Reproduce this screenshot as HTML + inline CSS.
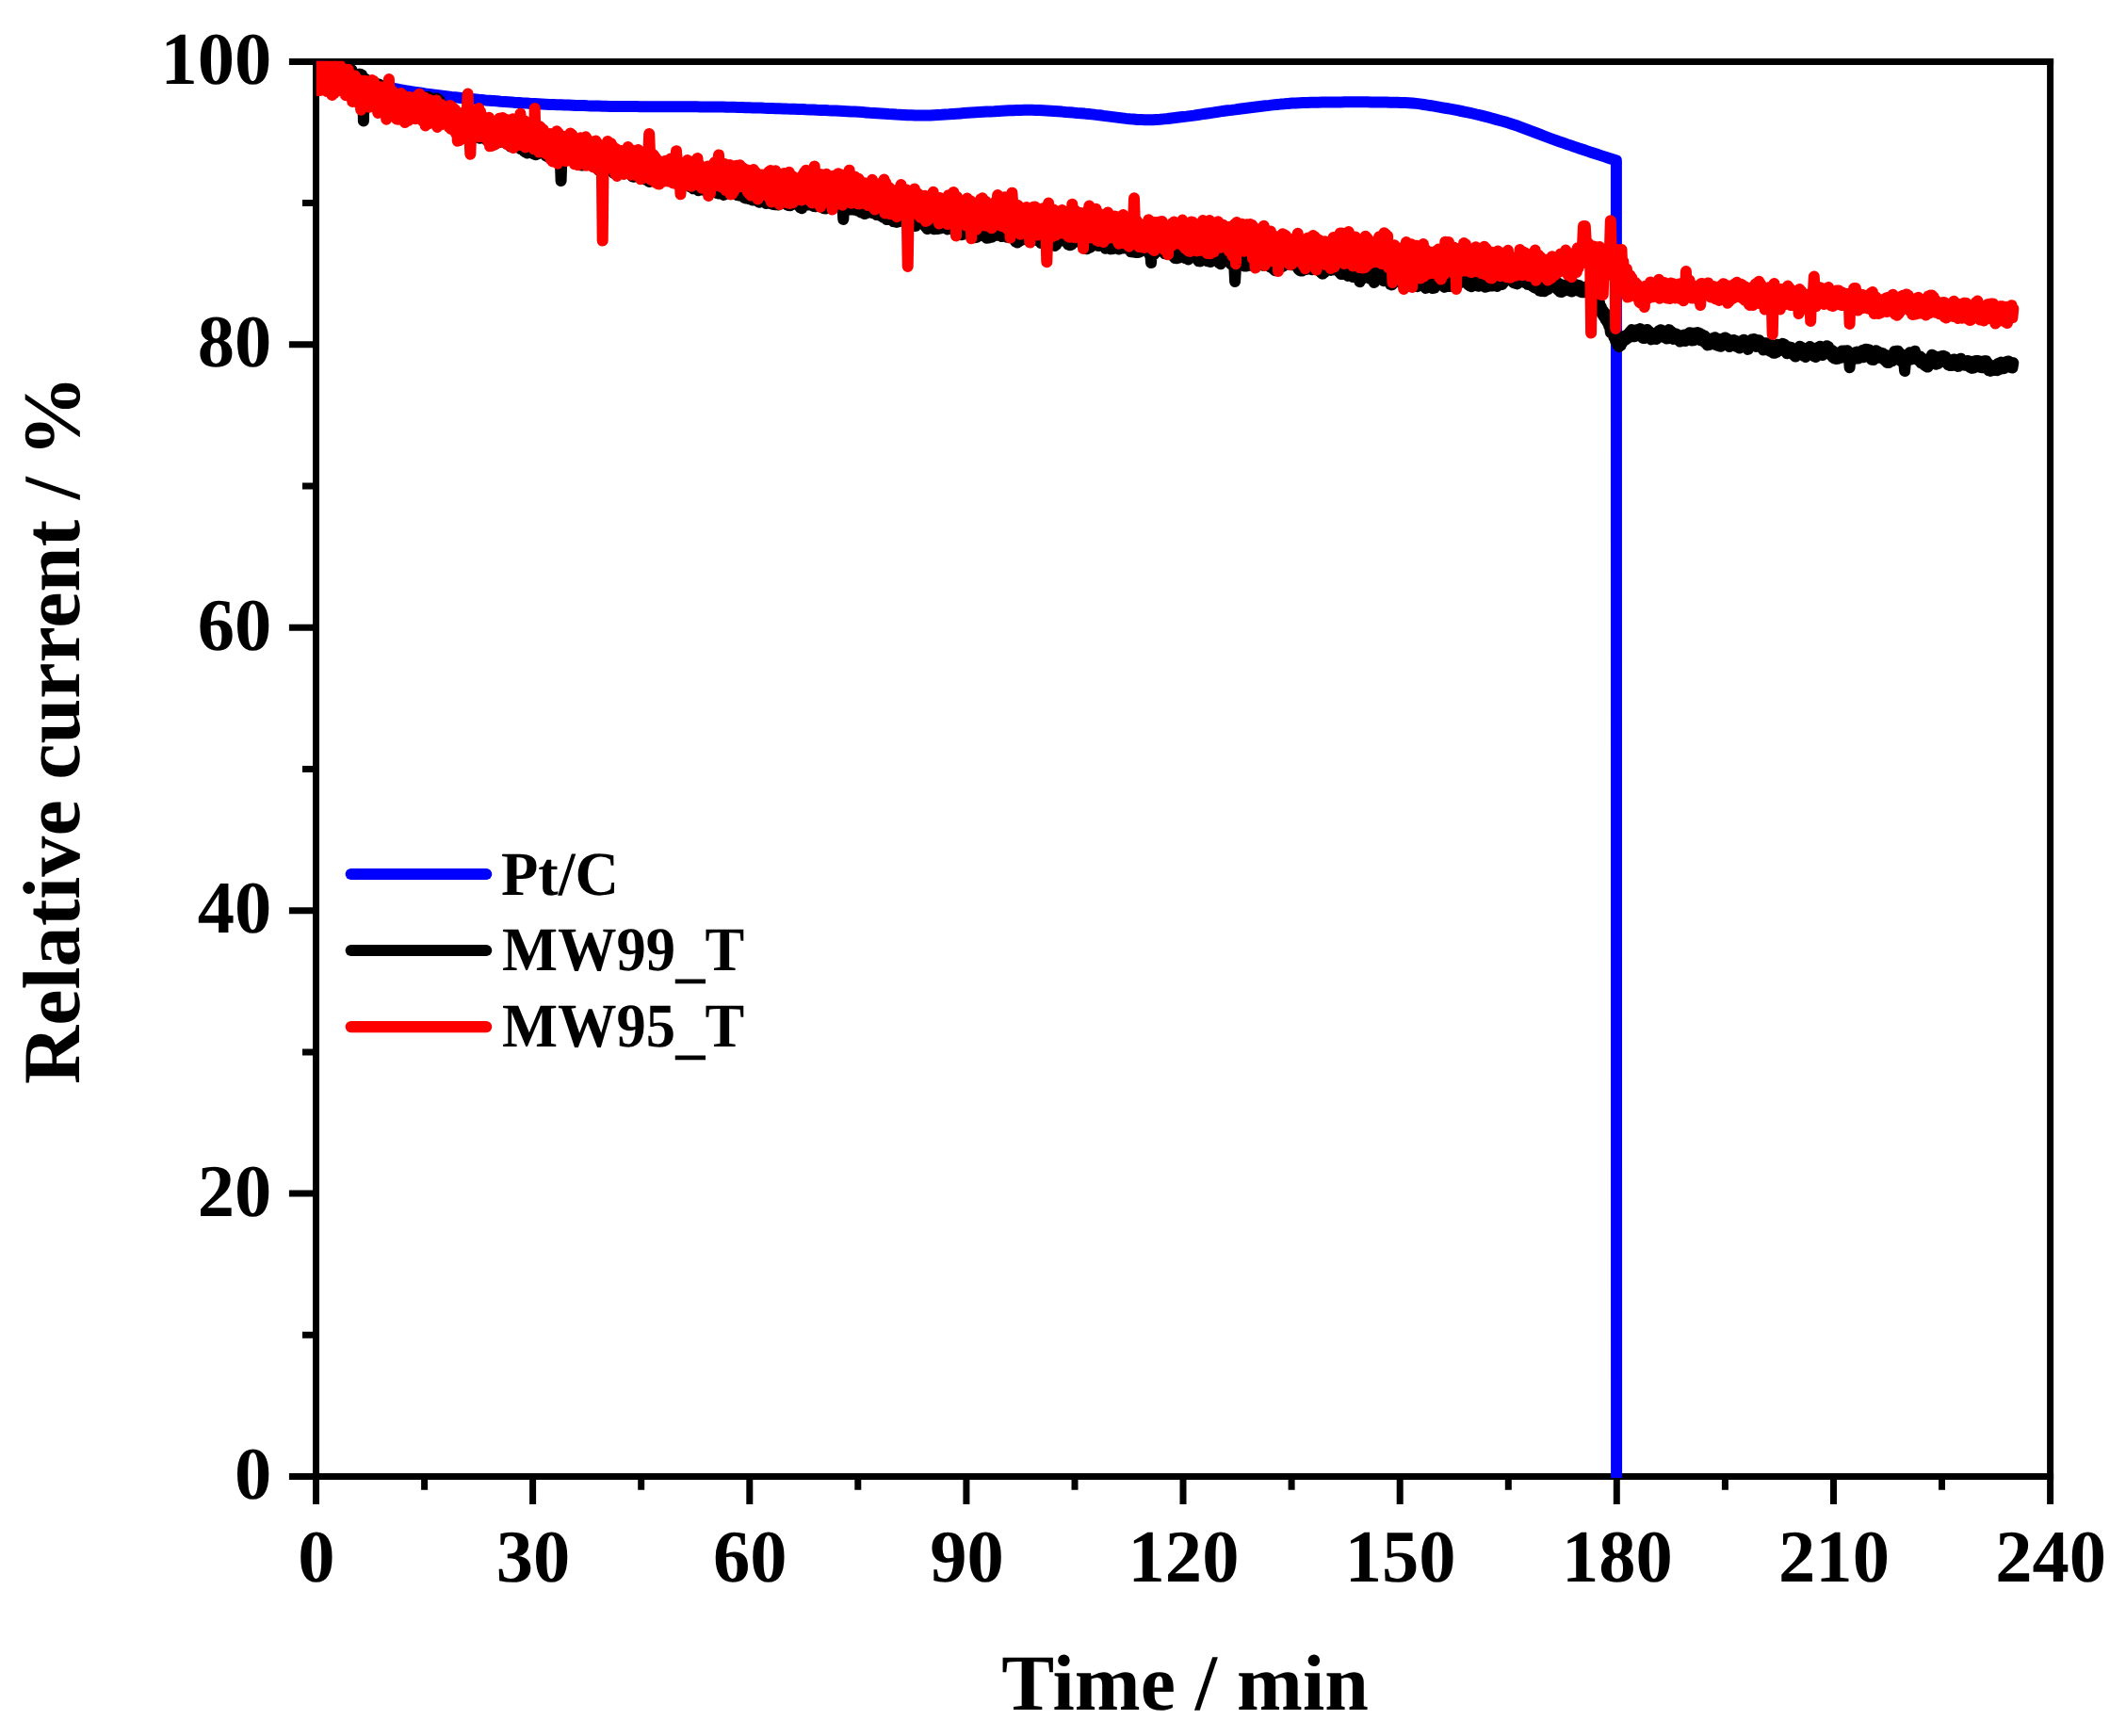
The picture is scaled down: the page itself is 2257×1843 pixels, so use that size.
<!DOCTYPE html>
<html lang="en"><head><meta charset="utf-8"><title>Relative current vs Time</title>
<style>html,body{margin:0;padding:0;background:#fff}body{width:2257px;height:1843px;overflow:hidden}svg{display:block}text{font-family:"Liberation Serif","Times New Roman",serif;font-weight:bold;fill:#000;text-rendering:geometricPrecision}.tk{font-size:79px}.ttl{font-size:84.5px}.ttl2{font-size:86.2px}.lg{font-size:66.2px}</style></head><body>
<svg width="2257" height="1843" viewBox="0 0 2257 1843">
<rect width="2257" height="1843" fill="#fff"/>
<defs><clipPath id="cp"><rect x="335.7" y="64.8" width="1841.1" height="1504.2"/></clipPath></defs>
<g stroke="#000" stroke-width="7.0" fill="none" stroke-linecap="butt">
<path d="M306.9 65.4 H2180.1"/>
<path d="M306.9 1567.5 H2180.1"/>
<path d="M335.5 61.9 V1596.9"/>
<path d="M2176.6 61.9 V1596.9"/>
<path d="M306.9 1267.1H335.5M306.9 966.7H335.5M306.9 666.2H335.5M306.9 365.8H335.5M321.0 1417.3H335.5M321.0 1116.9H335.5M321.0 816.5H335.5M321.0 516.0H335.5M321.0 215.6H335.5M565.6 1567.5V1596.9M795.8 1567.5V1596.9M1025.9 1567.5V1596.9M1256.0 1567.5V1596.9M1486.2 1567.5V1596.9M1716.3 1567.5V1596.9M1946.5 1567.5V1596.9M450.6 1567.5V1581.8M680.7 1567.5V1581.8M910.8 1567.5V1581.8M1141.0 1567.5V1581.8M1371.1 1567.5V1581.8M1601.3 1567.5V1581.8M1831.4 1567.5V1581.8M2061.5 1567.5V1581.8"/>
</g>
<g clip-path="url(#cp)" fill="none" stroke-width="12.0" stroke-linejoin="round" stroke-linecap="round">
<polyline stroke="#0000ff" points="335.5,65.3 339.5,67.7 343.5,70.0 347.5,72.1 351.5,74.2 355.5,76.0 359.5,77.8 363.5,79.4 367.5,80.9 371.5,82.3 375.5,83.7 379.5,84.9 383.5,86.1 387.5,87.2 391.5,88.2 395.5,89.2 399.5,90.2 403.5,91.1 407.5,91.9 411.5,92.7 415.5,93.5 419.5,94.2 423.5,95.0 427.5,95.6 431.5,96.3 435.5,97.0 439.5,97.6 443.5,98.2 447.5,98.8 451.5,99.4 455.5,99.9 459.5,100.4 463.5,100.9 467.5,101.4 471.5,101.9 475.5,102.4 479.5,102.9 483.5,103.3 487.5,103.7 491.5,104.2 495.5,104.6 499.5,105.0 503.5,105.3 507.5,105.7 511.5,106.0 515.5,106.4 519.5,106.7 523.5,107.0 527.5,107.3 531.5,107.7 535.5,108.0 539.5,108.3 543.5,108.6 547.5,108.9 551.5,109.1 555.5,109.4 559.5,109.6 563.5,109.9 567.5,110.1 571.5,110.3 575.5,110.5 579.5,110.7 583.5,110.9 587.5,111.0 591.5,111.2 595.5,111.3 599.5,111.5 603.5,111.6 607.5,111.7 611.5,111.9 615.5,112.0 619.5,112.1 623.5,112.3 627.5,112.4 631.5,112.5 635.5,112.6 639.5,112.7 643.5,112.8 647.5,112.9 651.5,112.9 655.5,113.0 659.5,113.0 663.5,113.1 667.5,113.1 671.5,113.1 675.5,113.1 679.5,113.2 683.5,113.2 687.5,113.2 691.5,113.2 695.5,113.2 699.5,113.2 703.5,113.2 707.5,113.2 711.5,113.3 715.5,113.3 719.5,113.3 723.5,113.3 727.5,113.3 731.5,113.3 735.5,113.3 739.5,113.3 743.5,113.4 747.5,113.4 751.5,113.4 755.5,113.4 759.5,113.5 763.5,113.5 767.5,113.6 771.5,113.7 775.5,113.7 779.5,113.8 783.5,113.9 787.5,114.0 791.5,114.2 795.5,114.3 799.5,114.4 803.5,114.5 807.5,114.6 811.5,114.8 815.5,114.9 819.5,115.0 823.5,115.2 827.5,115.3 831.5,115.4 835.5,115.6 839.5,115.7 843.5,115.8 847.5,116.0 851.5,116.1 855.5,116.3 859.5,116.4 863.5,116.6 867.5,116.8 871.5,116.9 875.5,117.1 879.5,117.3 883.5,117.4 887.5,117.6 891.5,117.8 895.5,118.0 899.5,118.2 903.5,118.4 907.5,118.6 911.5,118.8 915.5,119.1 919.5,119.4 923.5,119.7 927.5,119.9 931.5,120.2 935.5,120.5 939.5,120.8 943.5,121.1 947.5,121.3 951.5,121.6 955.5,121.8 959.5,122.0 963.5,122.2 967.5,122.3 971.5,122.4 975.5,122.5 979.5,122.5 983.5,122.5 987.5,122.4 991.5,122.2 995.5,122.0 999.5,121.8 1003.5,121.5 1007.5,121.3 1011.5,121.0 1015.5,120.7 1019.5,120.4 1023.5,120.1 1027.5,119.8 1031.5,119.5 1035.5,119.2 1039.5,119.0 1043.5,118.8 1047.5,118.6 1051.5,118.4 1055.5,118.2 1059.5,117.9 1063.5,117.7 1067.5,117.5 1071.5,117.3 1075.5,117.2 1079.5,117.0 1083.5,116.9 1087.5,116.8 1091.5,116.8 1095.5,116.8 1099.5,116.9 1103.5,117.0 1107.5,117.2 1111.5,117.4 1115.5,117.7 1119.5,118.0 1123.5,118.3 1127.5,118.6 1131.5,119.0 1135.5,119.3 1139.5,119.6 1143.5,120.0 1147.5,120.3 1151.5,120.6 1155.5,121.0 1159.5,121.4 1163.5,121.9 1167.5,122.3 1171.5,122.9 1175.5,123.4 1179.5,123.9 1183.5,124.4 1187.5,124.9 1191.5,125.4 1195.5,125.9 1199.5,126.3 1203.5,126.6 1207.5,126.9 1211.5,127.1 1215.5,127.3 1219.5,127.3 1223.5,127.2 1227.5,127.0 1231.5,126.8 1235.5,126.4 1239.5,126.0 1243.5,125.5 1247.5,125.0 1251.5,124.5 1255.5,124.0 1259.5,123.6 1263.5,123.1 1267.5,122.6 1271.5,122.0 1275.5,121.4 1279.5,120.8 1283.5,120.2 1287.5,119.6 1291.5,119.0 1295.5,118.4 1299.5,117.8 1303.5,117.3 1307.5,116.9 1311.5,116.4 1315.5,115.8 1319.5,115.3 1323.5,114.8 1327.5,114.3 1331.5,113.8 1335.5,113.3 1339.5,112.8 1343.5,112.3 1347.5,111.9 1351.5,111.4 1355.5,111.0 1359.5,110.6 1363.5,110.3 1367.5,109.9 1371.5,109.6 1375.5,109.4 1379.5,109.2 1383.5,109.0 1387.5,108.9 1391.5,108.8 1395.5,108.8 1399.5,108.7 1403.5,108.6 1407.5,108.6 1411.5,108.5 1415.5,108.5 1419.5,108.4 1423.5,108.4 1427.5,108.3 1431.5,108.3 1435.5,108.3 1439.5,108.3 1443.5,108.3 1447.5,108.3 1451.5,108.3 1455.5,108.4 1459.5,108.4 1463.5,108.5 1467.5,108.5 1471.5,108.6 1475.5,108.7 1479.5,108.8 1483.5,108.8 1487.5,108.9 1491.5,109.0 1495.5,109.2 1499.5,109.5 1503.5,109.9 1507.5,110.4 1511.5,111.0 1515.5,111.6 1519.5,112.2 1523.5,112.9 1527.5,113.6 1531.5,114.3 1535.5,115.0 1539.5,115.7 1543.5,116.4 1547.5,117.2 1551.5,118.0 1555.5,118.8 1559.5,119.6 1563.5,120.5 1567.5,121.5 1571.5,122.4 1575.5,123.4 1579.5,124.4 1583.5,125.5 1587.5,126.6 1591.5,127.7 1595.5,128.8 1599.5,129.9 1603.5,131.2 1607.5,132.5 1611.5,133.8 1615.5,135.3 1619.5,136.8 1623.5,138.3 1627.5,139.8 1631.5,141.4 1635.5,142.9 1639.5,144.5 1643.5,146.0 1647.5,147.5 1651.5,148.9 1655.5,150.3 1659.5,151.7 1663.5,153.1 1667.5,154.4 1671.5,155.8 1675.5,157.2 1679.5,158.5 1683.5,159.8 1687.5,161.2 1691.5,162.5 1695.5,163.8 1699.5,165.1 1703.5,166.4 1707.5,167.7 1711.5,169.0 1715.5,170.3 1715.9,170.4 1716.1,1600.0"/>
<polyline stroke="#000000" points="335.5,72.3 336.4,76.7 337.3,73.1 338.2,78.4 339.1,72.9 340.0,79.0 340.9,74.0 341.8,78.9 342.7,74.2 343.6,78.9 344.5,72.7 345.4,79.0 346.3,73.1 347.2,78.8 348.1,73.0 349.0,77.3 349.9,72.5 350.8,77.3 351.7,72.3 352.6,77.8 353.5,73.8 354.4,79.6 355.3,74.5 356.2,82.2 357.1,75.2 358.0,81.3 358.9,75.4 359.8,81.2 360.7,75.8 361.6,81.5 362.5,76.7 363.4,83.7 364.3,77.2 365.2,83.7 366.1,77.3 367.0,82.6 367.9,76.2 368.8,80.4 369.7,73.1 370.6,78.4 371.5,72.4 372.4,78.8 373.3,74.1 374.2,82.3 375.1,78.2 376.0,86.5 376.9,80.4 377.8,87.2 378.7,79.6 379.6,86.1 380.5,78.7 381.4,85.4 382.3,78.8 383.2,84.8 384.1,79.7 385.0,85.5 385.9,128.5 386.8,87.9 387.7,83.6 388.6,92.6 389.5,87.0 390.4,92.8 391.3,88.5 392.2,94.4 393.1,87.7 394.0,94.8 394.9,87.3 395.8,94.2 396.7,88.3 397.6,94.9 398.5,89.4 399.4,96.2 400.3,89.8 401.2,97.6 402.1,89.4 403.0,97.2 403.9,90.6 404.8,97.8 405.7,92.5 406.6,100.7 407.5,97.1 408.4,103.6 409.3,99.4 410.2,105.3 411.1,100.1 412.0,105.6 412.9,99.6 413.8,104.6 414.7,98.8 415.6,104.6 416.5,99.6 417.4,105.7 418.3,100.4 419.2,105.8 420.1,100.9 421.0,105.7 421.9,100.3 422.8,105.9 423.7,100.3 424.6,106.0 425.5,101.0 426.4,106.2 427.3,100.7 428.2,107.5 429.1,103.2 430.0,112.0 430.9,108.0 431.8,115.3 432.7,110.2 433.6,114.9 434.5,108.1 435.4,112.1 436.3,106.5 437.2,111.8 438.1,107.3 439.0,113.9 439.9,109.8 440.8,115.6 441.7,111.0 442.6,115.2 443.5,111.2 444.4,115.7 445.3,111.3 446.2,116.2 447.1,111.1 448.0,115.9 448.9,109.2 449.8,114.1 450.7,106.5 451.6,111.4 452.5,104.6 453.4,109.4 454.3,102.8 455.2,109.3 456.1,103.6 457.0,111.2 457.9,105.6 458.8,112.3 459.7,106.9 460.6,111.7 461.5,105.6 462.4,110.0 463.3,104.5 464.2,110.6 465.1,105.4 466.0,114.3 466.9,107.2 467.8,115.2 468.7,110.7 469.6,118.2 470.5,113.8 471.4,121.0 472.3,116.7 473.2,123.2 474.1,117.3 475.0,123.4 475.9,118.0 476.8,123.4 477.7,119.1 478.6,124.8 479.5,120.3 480.4,126.7 481.3,121.5 482.2,128.8 483.1,122.6 484.0,130.8 484.9,125.5 485.8,132.9 486.7,127.4 487.6,134.1 488.5,128.8 489.4,134.8 490.3,129.2 491.2,136.9 492.1,131.2 493.0,138.7 493.9,133.0 494.8,139.6 495.7,134.9 496.6,140.0 497.5,135.3 498.4,140.4 499.3,133.9 500.2,138.4 501.1,131.3 502.0,140.1 502.9,133.0 503.8,140.1 504.7,135.1 505.6,143.1 506.5,139.5 507.4,146.0 508.3,139.5 509.2,146.8 510.1,141.9 511.0,146.5 511.9,141.5 512.8,145.4 513.7,140.4 514.6,146.4 515.5,142.5 516.4,148.5 517.3,144.0 518.2,149.8 519.1,144.6 520.0,150.8 520.9,144.9 521.8,152.8 522.7,146.2 523.6,153.8 524.5,147.0 525.4,152.4 526.3,147.2 527.2,152.0 528.1,146.8 529.0,151.4 529.9,145.4 530.8,149.2 531.7,143.9 532.6,149.5 533.5,143.8 534.4,150.5 535.3,144.8 536.2,151.4 537.1,147.4 538.0,152.2 538.9,148.1 539.8,153.1 540.7,149.5 541.6,155.4 542.5,150.5 543.4,155.5 544.3,149.5 545.2,154.1 546.1,148.6 547.0,153.9 547.9,149.2 548.8,155.1 549.7,150.6 550.6,156.1 551.5,151.2 552.4,157.9 553.3,152.3 554.2,158.8 555.1,152.7 556.0,160.3 556.9,153.8 557.8,161.6 558.7,154.5 559.6,162.5 560.5,156.2 561.4,162.3 562.3,155.3 563.2,160.8 564.1,155.1 565.0,161.1 565.9,156.5 566.8,163.4 567.7,157.3 568.6,164.2 569.5,156.7 570.4,163.5 571.3,156.1 572.2,161.8 573.1,155.8 574.0,161.2 574.9,156.0 575.8,161.8 576.7,156.3 577.6,162.9 578.5,157.2 579.4,165.4 580.3,159.7 581.2,166.3 582.1,160.7 583.0,166.0 583.9,160.0 584.8,164.5 585.7,159.8 586.6,166.0 587.5,161.5 588.4,169.0 589.3,163.3 590.2,167.2 591.1,163.5 592.0,168.6 592.9,164.0 593.8,170.1 594.7,164.6 595.6,192.0 596.5,164.0 597.4,167.8 598.3,161.5 599.2,165.9 600.1,158.4 601.0,165.3 601.9,158.3 602.8,165.1 603.7,159.5 604.6,166.8 605.5,162.5 606.4,168.3 607.3,161.5 608.2,167.7 609.1,160.7 610.0,166.0 610.9,161.2 611.8,168.2 612.7,161.2 613.6,169.9 614.5,165.0 615.4,172.8 616.3,168.9 617.2,175.4 618.1,169.8 619.0,175.4 619.9,169.2 620.8,174.3 621.7,168.6 622.6,172.6 623.5,168.2 624.4,173.0 625.3,167.9 626.2,174.2 627.1,168.2 628.0,175.8 628.9,168.3 629.8,174.9 630.7,169.5 631.6,174.9 632.5,171.6 633.4,177.5 634.3,174.3 635.2,180.4 636.1,175.7 637.0,179.5 637.9,173.3 638.8,175.9 639.7,171.3 640.6,175.5 641.5,170.5 642.4,176.7 643.3,171.2 644.2,177.7 645.1,171.8 646.0,177.5 646.9,171.4 647.8,178.3 648.7,174.7 649.6,181.3 650.5,177.0 651.4,183.8 652.3,178.3 653.2,184.1 654.1,178.1 655.0,183.0 655.9,175.3 656.8,182.2 657.7,175.0 658.6,182.4 659.5,177.8 660.4,183.9 661.3,179.6 662.2,184.7 663.1,178.5 664.0,182.6 664.9,174.6 665.8,179.0 666.7,173.7 667.6,180.3 668.5,175.9 669.4,184.6 670.3,179.3 671.2,187.4 672.1,180.4 673.0,187.7 673.9,179.3 674.8,187.0 675.7,178.9 676.6,186.1 677.5,177.5 678.4,184.6 679.3,177.1 680.2,183.4 681.1,177.8 682.0,183.6 682.9,180.1 683.8,186.4 684.7,181.5 685.6,190.9 686.5,181.8 687.4,188.1 688.3,181.3 689.2,193.0 690.1,182.1 691.0,188.3 691.9,182.0 692.8,187.2 693.7,181.4 694.6,185.0 695.5,180.0 696.4,183.9 697.3,179.8 698.2,184.8 699.1,181.6 700.0,188.2 700.9,183.2 701.8,189.4 702.7,181.8 703.6,188.4 704.5,181.8 705.4,187.7 706.3,182.4 707.2,187.4 708.1,183.1 709.0,188.1 709.9,184.7 710.8,189.9 711.7,185.3 712.6,191.1 713.5,184.9 714.4,191.1 715.3,184.7 716.2,191.9 717.1,185.4 718.0,190.9 718.9,185.5 719.8,191.5 720.7,185.4 721.6,192.5 722.5,187.2 723.4,193.7 724.3,189.1 725.2,194.1 726.1,187.5 727.0,193.2 727.9,187.3 728.8,194.3 729.7,189.5 730.6,196.6 731.5,191.7 732.4,198.3 733.3,193.1 734.2,199.1 735.1,194.4 736.0,200.3 736.9,194.8 737.8,199.8 738.7,195.0 739.6,200.7 740.5,195.7 741.4,202.3 742.3,195.4 743.2,200.9 744.1,195.6 745.0,201.4 745.9,194.3 746.8,201.3 747.7,194.3 748.6,202.3 749.5,196.3 750.4,202.9 751.3,197.6 752.2,203.8 753.1,197.9 754.0,203.3 754.9,197.5 755.8,202.4 756.7,196.1 757.6,201.9 758.5,196.7 759.4,203.1 760.3,197.1 761.2,205.0 762.1,197.3 763.0,205.5 763.9,197.4 764.8,204.5 765.7,199.1 766.6,205.6 767.5,199.7 768.4,206.9 769.3,200.4 770.2,205.9 771.1,201.3 772.0,205.6 772.9,200.7 773.8,204.5 774.7,198.8 775.6,203.5 776.5,197.6 777.4,204.1 778.3,197.3 779.2,204.5 780.1,198.7 781.0,206.1 781.9,201.0 782.8,207.1 783.7,201.5 784.6,207.4 785.5,200.8 786.4,207.0 787.3,200.2 788.2,208.1 789.1,201.3 790.0,209.9 790.9,203.1 791.8,210.4 792.7,204.0 793.6,209.9 794.5,204.5 795.4,211.2 796.3,205.6 797.2,211.6 798.1,206.2 799.0,212.5 799.9,206.0 800.8,211.2 801.7,205.8 802.6,211.3 803.5,207.5 804.4,213.7 805.3,209.1 806.2,214.8 807.1,207.6 808.0,213.6 808.9,205.3 809.8,212.4 810.7,204.4 811.6,213.6 812.5,207.1 813.4,216.0 814.3,207.7 815.2,214.8 816.1,208.5 817.0,214.9 817.9,211.2 818.8,216.4 819.7,210.8 820.6,216.8 821.5,208.6 822.4,217.3 823.3,209.5 824.2,217.1 825.1,212.1 826.0,217.6 826.9,211.2 827.8,216.6 828.7,209.7 829.6,215.7 830.5,209.6 831.4,214.9 832.3,209.8 833.2,216.2 834.1,210.3 835.0,217.2 835.9,211.1 836.8,218.1 837.7,210.3 838.6,218.2 839.5,211.0 840.4,217.4 841.3,211.2 842.2,215.1 843.1,208.4 844.0,212.8 844.9,207.1 845.8,213.2 846.7,208.3 847.6,215.5 848.5,211.7 849.4,220.3 850.3,214.7 851.2,221.2 852.1,212.5 853.0,218.3 853.9,211.4 854.8,216.6 855.7,211.1 856.6,217.5 857.5,213.0 858.4,217.6 859.3,213.1 860.2,216.9 861.1,212.9 862.0,216.8 862.9,214.5 863.8,219.0 864.7,214.4 865.6,219.3 866.5,213.9 867.4,217.4 868.3,211.9 869.2,216.4 870.1,211.0 871.0,217.2 871.9,214.8 872.8,219.3 873.7,216.4 874.6,221.3 875.5,216.4 876.4,221.6 877.3,216.2 878.2,220.3 879.1,215.2 880.0,218.9 880.9,214.1 881.8,220.4 882.7,213.7 883.6,220.4 884.5,214.2 885.4,219.6 886.3,214.8 887.2,219.3 888.1,213.7 889.0,219.4 889.9,212.7 890.8,219.6 891.7,213.3 892.6,220.0 893.5,213.8 894.4,219.1 895.3,233.0 896.2,217.2 897.1,212.8 898.0,217.9 898.9,212.1 899.8,218.5 900.7,213.3 901.6,219.5 902.5,215.6 903.4,222.5 904.3,216.4 905.2,222.5 906.1,216.3 907.0,222.7 907.9,215.5 908.8,222.6 909.7,217.3 910.6,223.6 911.5,216.7 912.4,223.4 913.3,216.3 914.2,225.5 915.1,218.8 916.0,225.8 916.9,221.4 917.8,227.1 918.7,221.6 919.6,226.4 920.5,221.3 921.4,225.0 922.3,219.3 923.2,224.5 924.1,217.7 925.0,225.5 925.9,218.2 926.8,226.3 927.7,220.0 928.6,226.5 929.5,220.8 930.4,228.0 931.3,221.7 932.2,227.7 933.1,222.3 934.0,228.6 934.9,223.4 935.8,229.4 936.7,223.9 937.6,230.8 938.5,225.4 939.4,231.1 940.3,226.0 941.2,233.1 942.1,226.0 943.0,232.9 943.9,225.5 944.8,231.4 945.7,226.5 946.6,232.9 947.5,228.8 948.4,235.1 949.3,230.7 950.2,235.5 951.1,230.3 952.0,235.9 952.9,230.7 953.8,235.4 954.7,228.3 955.6,231.8 956.5,224.8 957.4,228.8 958.3,223.7 959.2,228.8 960.1,225.7 961.0,229.7 961.9,227.0 962.8,232.5 963.7,230.2 964.6,235.6 965.5,231.5 966.4,236.4 967.3,232.1 968.2,238.4 969.1,234.0 970.0,239.7 970.9,233.3 971.8,239.9 972.7,234.5 973.6,238.2 974.5,231.5 975.4,235.5 976.3,229.2 977.2,236.9 978.1,230.3 979.0,236.6 979.9,229.9 980.8,238.6 981.7,233.1 982.6,240.7 983.5,236.0 984.4,243.0 985.3,236.1 986.2,242.5 987.1,236.0 988.0,241.5 988.9,235.8 989.8,240.9 990.7,235.2 991.6,243.2 992.5,236.0 993.4,243.1 994.3,237.1 995.2,243.0 996.1,236.9 997.0,242.2 997.9,236.7 998.8,242.4 999.7,236.3 1000.6,241.8 1001.5,235.6 1002.4,241.2 1003.3,235.4 1004.2,240.8 1005.1,236.2 1006.0,243.4 1006.9,236.4 1007.8,242.7 1008.7,236.4 1009.6,242.8 1010.5,236.7 1011.4,242.9 1012.3,237.2 1013.2,243.1 1014.1,237.7 1015.0,245.3 1015.9,241.0 1016.8,248.9 1017.7,243.9 1018.6,249.1 1019.5,243.5 1020.4,249.3 1021.3,243.0 1022.2,248.9 1023.1,241.5 1024.0,246.5 1024.9,239.4 1025.8,245.7 1026.7,240.3 1027.6,246.6 1028.5,241.1 1029.4,248.8 1030.3,242.1 1031.2,249.2 1032.1,242.3 1033.0,249.8 1033.9,244.3 1034.8,252.2 1035.7,246.0 1036.6,251.9 1037.5,246.9 1038.4,251.0 1039.3,245.9 1040.2,250.4 1041.1,242.0 1042.0,248.9 1042.9,240.2 1043.8,249.0 1044.7,243.4 1045.6,250.8 1046.5,245.7 1047.4,252.8 1048.3,247.4 1049.2,252.6 1050.1,246.4 1051.0,251.6 1051.9,245.2 1052.8,251.7 1053.7,245.6 1054.6,250.9 1055.5,243.9 1056.4,249.9 1057.3,243.2 1058.2,249.7 1059.1,242.6 1060.0,249.8 1060.9,243.8 1061.8,250.3 1062.7,244.9 1063.6,251.1 1064.5,244.3 1065.4,250.5 1066.3,244.3 1067.2,250.1 1068.1,246.1 1069.0,251.8 1069.9,246.1 1070.8,251.0 1071.7,243.8 1072.6,249.7 1073.5,244.4 1074.4,251.8 1075.3,246.0 1076.2,253.6 1077.1,249.5 1078.0,256.5 1078.9,252.5 1079.8,257.5 1080.7,251.7 1081.6,256.5 1082.5,251.5 1083.4,254.8 1084.3,250.6 1085.2,254.6 1086.1,248.8 1087.0,254.0 1087.9,247.0 1088.8,252.9 1089.7,245.9 1090.6,252.7 1091.5,247.0 1092.4,252.4 1093.3,246.8 1094.2,251.6 1095.1,246.5 1096.0,252.4 1096.9,248.2 1097.8,254.2 1098.7,249.2 1099.6,254.9 1100.5,248.7 1101.4,254.1 1102.3,249.1 1103.2,255.3 1104.1,250.5 1105.0,258.1 1105.9,251.9 1106.8,258.0 1107.7,251.4 1108.6,256.5 1109.5,250.0 1110.4,255.2 1111.3,248.5 1112.2,257.9 1113.1,251.5 1114.0,258.6 1114.9,252.6 1115.8,259.2 1116.7,251.7 1117.6,260.6 1118.5,255.5 1119.4,261.0 1120.3,255.0 1121.2,259.9 1122.1,252.2 1123.0,256.4 1123.9,249.1 1124.8,254.7 1125.7,248.5 1126.6,254.8 1127.5,248.8 1128.4,255.4 1129.3,249.9 1130.2,255.2 1131.1,249.4 1132.0,257.0 1132.9,252.3 1133.8,259.6 1134.7,254.1 1135.6,260.2 1136.5,255.0 1137.4,259.9 1138.3,254.3 1139.2,257.9 1140.1,252.5 1141.0,256.1 1141.9,251.4 1142.8,256.5 1143.7,251.5 1144.6,256.2 1145.5,250.8 1146.4,256.4 1147.3,250.9 1148.2,258.2 1149.1,252.9 1150.0,261.0 1150.9,255.8 1151.8,263.3 1152.7,257.1 1153.6,264.2 1154.5,256.7 1155.4,263.4 1156.3,256.7 1157.2,262.8 1158.1,255.9 1159.0,260.6 1159.9,255.2 1160.8,259.1 1161.7,254.3 1162.6,258.9 1163.5,255.1 1164.4,260.7 1165.3,256.8 1166.2,261.1 1167.1,255.6 1168.0,259.5 1168.9,253.4 1169.8,258.5 1170.7,253.9 1171.6,261.0 1172.5,255.5 1173.4,263.7 1174.3,256.3 1175.2,263.2 1176.1,256.4 1177.0,263.3 1177.9,256.2 1178.8,264.4 1179.7,257.0 1180.6,264.2 1181.5,258.3 1182.4,263.9 1183.3,256.2 1184.2,261.3 1185.1,255.0 1186.0,262.4 1186.9,254.7 1187.8,264.6 1188.7,253.5 1189.6,263.9 1190.5,256.1 1191.4,263.1 1192.3,253.8 1193.2,263.4 1194.1,257.3 1195.0,263.3 1195.9,258.4 1196.8,264.1 1197.7,258.3 1198.6,264.8 1199.5,258.9 1200.4,267.2 1201.3,261.0 1202.2,267.4 1203.1,261.6 1204.0,266.9 1204.9,261.3 1205.8,268.1 1206.7,260.4 1207.6,268.0 1208.5,260.5 1209.4,267.7 1210.3,258.9 1211.2,266.7 1212.1,258.5 1213.0,264.5 1213.9,256.7 1214.8,262.9 1215.7,257.5 1216.6,262.5 1217.5,259.0 1218.4,265.4 1219.3,260.5 1220.2,269.8 1221.1,264.3 1222.0,279.0 1222.9,265.4 1223.8,269.9 1224.7,262.5 1225.6,269.4 1226.5,258.6 1227.4,266.1 1228.3,259.3 1229.2,265.2 1230.1,259.0 1231.0,266.2 1231.9,259.7 1232.8,266.2 1233.7,260.8 1234.6,267.4 1235.5,262.7 1236.4,269.3 1237.3,264.1 1238.2,269.7 1239.1,265.5 1240.0,268.6 1240.9,264.6 1241.8,269.1 1242.7,263.8 1243.6,269.6 1244.5,264.9 1245.4,272.0 1246.3,267.7 1247.2,273.9 1248.1,269.3 1249.0,274.3 1249.9,268.6 1250.8,273.9 1251.7,263.8 1252.6,272.2 1253.5,266.8 1254.4,272.3 1255.3,266.8 1256.2,273.0 1257.1,267.2 1258.0,273.9 1258.9,267.0 1259.8,273.8 1260.7,266.9 1261.6,275.5 1262.5,266.5 1263.4,274.1 1264.3,267.5 1265.2,273.0 1266.1,266.9 1267.0,272.7 1267.9,264.1 1268.8,273.0 1269.7,266.7 1270.6,274.3 1271.5,270.2 1272.4,277.2 1273.3,273.2 1274.2,277.4 1275.1,273.3 1276.0,276.1 1276.9,269.6 1277.8,273.6 1278.7,268.5 1279.6,273.7 1280.5,268.5 1281.4,277.2 1282.3,270.2 1283.2,277.6 1284.1,271.1 1285.0,278.0 1285.9,271.0 1286.8,276.3 1287.7,269.3 1288.6,273.8 1289.5,268.7 1290.4,274.0 1291.3,270.3 1292.2,277.0 1293.1,271.8 1294.0,279.1 1294.9,273.5 1295.8,280.2 1296.7,272.7 1297.6,278.4 1298.5,271.4 1299.4,277.6 1300.3,270.0 1301.2,277.0 1302.1,270.5 1303.0,276.5 1303.9,269.7 1304.8,278.0 1305.7,272.6 1306.6,280.3 1307.5,272.4 1308.4,280.4 1309.3,272.7 1310.2,280.5 1311.1,299.0 1312.0,282.3 1312.9,275.6 1313.8,282.7 1314.7,274.6 1315.6,280.8 1316.5,274.7 1317.4,280.2 1318.3,274.8 1319.2,281.4 1320.1,275.9 1321.0,282.5 1321.9,277.0 1322.8,282.6 1323.7,276.0 1324.6,281.4 1325.5,275.1 1326.4,280.5 1327.3,274.6 1328.2,281.8 1329.1,276.5 1330.0,281.7 1330.9,275.9 1331.8,281.2 1332.7,273.4 1333.6,277.9 1334.5,271.8 1335.4,277.0 1336.3,272.7 1337.2,278.0 1338.1,274.9 1339.0,280.9 1339.9,275.5 1340.8,281.8 1341.7,274.1 1342.6,278.8 1343.5,269.2 1344.4,278.3 1345.3,274.6 1346.2,280.5 1347.1,276.6 1348.0,283.3 1348.9,277.6 1349.8,284.2 1350.7,278.1 1351.6,285.6 1352.5,278.6 1353.4,287.2 1354.3,278.5 1355.2,285.4 1356.1,277.1 1357.0,282.1 1357.9,276.8 1358.8,282.9 1359.7,277.8 1360.6,283.4 1361.5,277.9 1362.4,282.5 1363.3,276.3 1364.2,281.2 1365.1,274.3 1366.0,280.8 1366.9,274.0 1367.8,279.9 1368.7,273.7 1369.6,279.9 1370.5,275.2 1371.4,281.2 1372.3,276.2 1373.2,281.5 1374.1,276.5 1375.0,281.3 1375.9,276.4 1376.8,283.0 1377.7,278.6 1378.6,285.9 1379.5,281.8 1380.4,287.5 1381.3,281.5 1382.2,287.5 1383.1,280.1 1384.0,284.7 1384.9,278.9 1385.8,285.6 1386.7,278.6 1387.6,285.9 1388.5,278.2 1389.4,285.0 1390.3,277.9 1391.2,284.8 1392.1,278.4 1393.0,286.2 1393.9,279.7 1394.8,285.0 1395.7,278.5 1396.6,282.8 1397.5,275.7 1398.4,281.5 1399.3,277.7 1400.2,284.3 1401.1,281.7 1402.0,288.9 1402.9,285.2 1403.8,290.7 1404.7,285.1 1405.6,289.7 1406.5,281.2 1407.4,287.0 1408.3,279.6 1409.2,285.2 1410.1,277.7 1411.0,286.1 1411.9,281.5 1412.8,286.9 1413.7,281.9 1414.6,286.6 1415.5,280.6 1416.4,285.7 1417.3,279.9 1418.2,284.6 1419.1,280.3 1420.0,286.4 1420.9,282.0 1421.8,289.1 1422.7,284.3 1423.6,291.1 1424.5,285.4 1425.4,290.9 1426.3,285.7 1427.2,290.3 1428.1,285.5 1429.0,291.3 1429.9,285.5 1430.8,292.9 1431.7,285.4 1432.6,292.0 1433.5,284.1 1434.4,291.9 1435.3,285.3 1436.2,294.1 1437.1,288.9 1438.0,293.9 1438.9,289.7 1439.8,294.8 1440.7,289.6 1441.6,295.4 1442.5,290.7 1443.4,299.2 1444.3,291.6 1445.2,296.8 1446.1,288.9 1447.0,293.4 1447.9,285.4 1448.8,291.2 1449.7,285.2 1450.6,291.5 1451.5,286.2 1452.4,293.2 1453.3,287.5 1454.2,295.7 1455.1,288.2 1456.0,295.3 1456.9,288.6 1457.8,293.2 1458.7,300.0 1459.6,291.2 1460.5,284.4 1461.4,290.9 1462.3,285.4 1463.2,292.1 1464.1,286.5 1465.0,293.9 1465.9,288.4 1466.8,296.5 1467.7,289.8 1468.6,298.2 1469.5,290.3 1470.4,297.0 1471.3,289.7 1472.2,296.6 1473.1,291.7 1474.0,297.9 1474.9,293.6 1475.8,301.7 1476.7,296.1 1477.6,302.4 1478.5,296.5 1479.4,300.5 1480.3,292.8 1481.2,297.8 1482.1,289.3 1483.0,295.1 1483.9,288.6 1484.8,294.9 1485.7,291.2 1486.6,298.0 1487.5,294.2 1488.4,301.6 1489.3,295.6 1490.2,302.7 1491.1,296.1 1492.0,302.1 1492.9,295.3 1493.8,301.3 1494.7,296.0 1495.6,301.1 1496.5,295.9 1497.4,301.3 1498.3,294.9 1499.2,301.1 1500.1,294.6 1501.0,304.0 1501.9,294.8 1502.8,303.0 1503.7,295.8 1504.6,304.2 1505.5,295.6 1506.4,302.2 1507.3,294.9 1508.2,301.6 1509.1,295.0 1510.0,302.3 1510.9,297.3 1511.8,304.3 1512.7,299.1 1513.6,305.9 1514.5,299.3 1515.4,303.8 1516.3,296.9 1517.2,302.4 1518.1,295.8 1519.0,304.3 1519.9,296.7 1520.8,306.1 1521.7,296.2 1522.6,305.7 1523.5,298.5 1524.4,303.7 1525.3,296.3 1526.2,301.9 1527.1,296.2 1528.0,301.3 1528.9,295.3 1529.8,301.0 1530.7,296.1 1531.6,301.9 1532.5,296.5 1533.4,304.9 1534.3,297.0 1535.2,303.5 1536.1,296.3 1537.0,303.2 1537.9,298.0 1538.8,304.0 1539.7,297.8 1540.6,303.8 1541.5,298.1 1542.4,303.1 1543.3,297.8 1544.2,301.9 1545.1,297.1 1546.0,301.6 1546.9,296.3 1547.8,300.7 1548.7,296.0 1549.6,300.2 1550.5,294.5 1551.4,299.9 1552.3,292.4 1553.2,299.3 1554.1,291.5 1555.0,299.0 1555.9,292.6 1556.8,299.7 1557.7,295.0 1558.6,302.2 1559.5,297.0 1560.4,303.5 1561.3,297.3 1562.2,304.2 1563.1,295.9 1564.0,302.5 1564.9,295.1 1565.8,302.7 1566.7,297.0 1567.6,302.8 1568.5,298.8 1569.4,303.8 1570.3,297.7 1571.2,302.1 1572.1,295.7 1573.0,301.8 1573.9,297.3 1574.8,302.9 1575.7,298.5 1576.6,304.8 1577.5,297.8 1578.4,304.4 1579.3,297.6 1580.2,303.4 1581.1,297.7 1582.0,303.6 1582.9,298.2 1583.8,303.5 1584.7,297.5 1585.6,301.0 1586.5,295.2 1587.4,300.5 1588.3,293.5 1589.2,303.9 1590.1,294.3 1591.0,300.6 1591.9,294.8 1592.8,301.1 1593.7,296.3 1594.6,302.0 1595.5,295.1 1596.4,299.6 1597.3,293.0 1598.2,296.2 1599.1,290.7 1600.0,295.7 1600.9,291.4 1601.8,296.6 1602.7,291.0 1603.6,297.5 1604.5,292.4 1605.4,298.7 1606.3,295.0 1607.2,300.4 1608.1,296.1 1609.0,300.9 1609.9,295.9 1610.8,301.4 1611.7,294.0 1612.6,299.7 1613.5,291.8 1614.4,298.1 1615.3,290.0 1616.2,297.9 1617.1,293.0 1618.0,299.4 1618.9,295.5 1619.8,300.7 1620.7,298.1 1621.6,301.8 1622.5,297.8 1623.4,302.2 1624.3,296.4 1625.2,302.6 1626.1,297.0 1627.0,304.0 1627.9,299.1 1628.8,305.2 1629.7,301.3 1630.6,306.1 1631.5,300.8 1632.4,306.3 1633.3,301.1 1634.2,308.6 1635.1,302.9 1636.0,308.9 1636.9,302.7 1637.8,308.9 1638.7,303.0 1639.6,309.3 1640.5,302.8 1641.4,307.9 1642.3,302.1 1643.2,307.2 1644.1,300.9 1645.0,305.2 1645.9,298.4 1646.8,305.1 1647.7,296.4 1648.6,303.3 1649.5,297.0 1650.4,304.0 1651.3,297.9 1652.2,305.6 1653.1,299.9 1654.0,307.7 1654.9,301.0 1655.8,309.7 1656.7,302.2 1657.6,310.1 1658.5,302.5 1659.4,309.1 1660.3,302.8 1661.2,307.7 1662.1,303.3 1663.0,307.4 1663.9,303.0 1664.8,308.1 1665.7,303.5 1666.6,308.8 1667.5,304.1 1668.4,309.6 1669.3,303.3 1670.2,308.8 1671.1,301.5 1672.0,308.1 1672.9,302.3 1673.8,308.2 1674.7,302.6 1675.6,308.1 1676.5,303.2 1677.4,309.4 1678.3,304.7 1679.2,310.3 1680.1,306.5 1681.0,310.3 1681.9,306.1 1682.8,309.1 1683.7,304.5 1684.6,309.5 1685.5,304.2 1686.4,309.7 1687.3,305.1 1688.2,309.8 1689.1,305.5 1690.0,311.2 1690.9,305.9 1691.8,312.3 1692.7,307.6 1693.6,313.4 1694.5,311.7 1695.4,317.8 1696.3,316.9 1697.2,324.3 1698.1,321.6 1699.0,329.7 1699.9,326.1 1700.8,333.6 1701.7,329.7 1702.6,336.1 1703.5,331.9 1704.4,339.4 1705.3,334.1 1706.2,341.9 1707.1,338.3 1708.0,345.7 1708.9,344.1 1709.8,353.0 1710.7,348.1 1711.6,353.8 1712.5,351.9 1713.4,358.3 1714.3,355.3 1715.2,362.6 1716.1,358.0 1717.0,366.2 1717.9,359.3 1718.8,368.2 1719.7,362.0 1720.6,366.7 1721.5,360.1 1722.4,363.8 1723.3,357.3 1724.2,360.8 1725.1,356.6 1726.0,360.5 1726.9,355.8 1727.8,359.0 1728.7,354.3 1729.6,358.2 1730.5,352.1 1731.4,356.5 1732.3,350.1 1733.2,357.2 1734.1,350.5 1735.0,357.3 1735.9,351.9 1736.8,356.7 1737.7,351.5 1738.6,355.7 1739.5,349.7 1740.4,355.0 1741.3,349.1 1742.2,355.2 1743.1,350.4 1744.0,358.9 1744.9,351.9 1745.8,359.1 1746.7,351.2 1747.6,355.8 1748.5,350.0 1749.4,355.7 1750.3,351.4 1751.2,358.4 1752.1,353.8 1753.0,360.4 1753.9,354.4 1754.8,359.8 1755.7,354.0 1756.6,359.4 1757.5,354.0 1758.4,360.0 1759.3,353.6 1760.2,358.6 1761.1,351.2 1762.0,357.0 1762.9,350.3 1763.8,357.2 1764.7,351.0 1765.6,357.5 1766.5,351.5 1767.4,358.5 1768.3,352.6 1769.2,359.5 1770.1,353.2 1771.0,359.2 1771.9,350.1 1772.8,358.0 1773.7,351.6 1774.6,358.1 1775.5,353.9 1776.4,359.9 1777.3,355.8 1778.2,359.7 1779.1,354.3 1780.0,359.3 1780.9,355.0 1781.8,361.1 1782.7,356.3 1783.6,362.6 1784.5,357.1 1785.4,361.9 1786.3,356.9 1787.2,361.6 1788.1,355.4 1789.0,362.0 1789.9,356.3 1790.8,360.9 1791.7,354.9 1792.6,359.3 1793.5,353.2 1794.4,359.4 1795.3,353.5 1796.2,361.5 1797.1,353.9 1798.0,361.2 1798.9,354.4 1799.8,359.2 1800.7,353.3 1801.6,359.0 1802.5,353.1 1803.4,360.1 1804.3,353.9 1805.2,361.3 1806.1,354.9 1807.0,361.6 1807.9,355.9 1808.8,362.7 1809.7,356.6 1810.6,364.2 1811.5,359.0 1812.4,366.4 1813.3,361.2 1814.2,366.2 1815.1,360.7 1816.0,365.2 1816.9,359.5 1817.8,364.0 1818.7,359.0 1819.6,364.6 1820.5,358.3 1821.4,366.0 1822.3,360.0 1823.2,366.6 1824.1,359.8 1825.0,367.4 1825.9,360.1 1826.8,367.8 1827.7,361.0 1828.6,365.4 1829.5,359.5 1830.4,364.6 1831.3,358.4 1832.2,364.6 1833.1,359.3 1834.0,366.2 1834.9,361.0 1835.8,368.0 1836.7,362.0 1837.6,365.7 1838.5,361.8 1839.4,365.5 1840.3,360.9 1841.2,366.4 1842.1,361.6 1843.0,367.6 1843.9,362.8 1844.8,368.4 1845.7,362.8 1846.6,369.6 1847.5,362.6 1848.4,368.3 1849.3,361.7 1850.2,367.0 1851.1,360.8 1852.0,366.4 1852.9,362.0 1853.8,368.8 1854.7,363.7 1855.6,370.9 1856.5,362.1 1857.4,368.5 1858.3,362.4 1859.2,367.7 1860.1,360.2 1861.0,367.3 1861.9,359.9 1862.8,367.3 1863.7,360.7 1864.6,367.9 1865.5,361.5 1866.4,367.2 1867.3,361.2 1868.2,366.8 1869.1,362.7 1870.0,368.8 1870.9,364.5 1871.8,371.6 1872.7,365.9 1873.6,371.1 1874.5,364.3 1875.4,370.4 1876.3,364.5 1877.2,371.7 1878.1,364.5 1879.0,372.7 1879.9,365.6 1880.8,373.6 1881.7,367.8 1882.6,374.7 1883.5,368.9 1884.4,374.7 1885.3,368.1 1886.2,373.9 1887.1,365.8 1888.0,372.6 1888.9,367.0 1889.8,371.7 1890.7,366.5 1891.6,370.1 1892.5,364.8 1893.4,369.7 1894.3,365.7 1895.2,372.2 1896.1,367.4 1897.0,375.3 1897.9,369.1 1898.8,373.5 1899.7,368.6 1900.6,373.6 1901.5,368.8 1902.4,374.8 1903.3,371.0 1904.2,376.8 1905.1,373.1 1906.0,378.6 1906.9,372.8 1907.8,377.4 1908.7,369.9 1909.6,376.2 1910.5,367.8 1911.4,375.9 1912.3,368.7 1913.2,376.2 1914.1,371.1 1915.0,377.9 1915.9,373.6 1916.8,379.0 1917.7,373.5 1918.6,376.9 1919.5,370.1 1920.4,375.3 1921.3,368.0 1922.2,373.4 1923.1,368.9 1924.0,375.2 1924.9,371.9 1925.8,378.3 1926.7,373.5 1927.6,379.1 1928.5,371.8 1929.4,376.3 1930.3,368.8 1931.2,374.4 1932.1,367.8 1933.0,375.4 1933.9,368.2 1934.8,377.0 1935.7,371.9 1936.6,375.5 1937.5,369.8 1938.4,374.5 1939.3,367.2 1940.2,374.2 1941.1,368.2 1942.0,375.8 1942.9,371.6 1943.8,377.2 1944.7,371.8 1945.6,379.4 1946.5,373.2 1947.4,380.6 1948.3,376.1 1949.2,381.1 1950.1,377.1 1951.0,380.8 1951.9,375.7 1952.8,380.1 1953.7,373.8 1954.6,379.7 1955.5,372.6 1956.4,379.2 1957.3,372.4 1958.2,378.4 1959.1,372.5 1960.0,377.0 1960.9,372.2 1961.8,377.4 1962.7,373.7 1963.6,390.3 1964.5,376.7 1965.4,383.1 1966.3,376.3 1967.2,381.7 1968.1,376.2 1969.0,379.4 1969.9,374.1 1970.8,379.8 1971.7,373.6 1972.6,380.5 1973.5,374.4 1974.4,378.6 1975.3,374.0 1976.2,378.6 1977.1,372.0 1978.0,379.3 1978.9,371.4 1979.8,378.7 1980.7,370.7 1981.6,377.6 1982.5,371.0 1983.4,376.5 1984.3,371.3 1985.2,378.3 1986.1,374.4 1987.0,381.8 1987.9,375.4 1988.8,382.0 1989.7,374.4 1990.6,379.5 1991.5,372.2 1992.4,378.8 1993.3,373.4 1994.2,379.7 1995.1,374.3 1996.0,379.8 1996.9,374.6 1997.8,380.0 1998.7,375.1 1999.6,381.4 2000.5,376.3 2001.4,383.0 2002.3,377.3 2003.2,384.9 2004.1,377.8 2005.0,385.0 2005.9,377.7 2006.8,384.0 2007.7,377.0 2008.6,383.2 2009.5,375.7 2010.4,380.7 2011.3,373.0 2012.2,378.5 2013.1,372.7 2014.0,378.1 2014.9,372.7 2015.8,380.8 2016.7,374.8 2017.6,383.2 2018.5,377.0 2019.4,384.0 2020.3,377.9 2021.2,384.5 2022.1,394.0 2023.0,383.3 2023.9,377.1 2024.8,382.4 2025.7,375.9 2026.6,382.1 2027.5,374.2 2028.4,381.6 2029.3,375.2 2030.2,379.9 2031.1,374.5 2032.0,380.2 2032.9,372.8 2033.8,380.5 2034.7,376.4 2035.6,381.9 2036.5,377.7 2037.4,383.2 2038.3,378.4 2039.2,385.3 2040.1,380.0 2041.0,386.1 2041.9,381.3 2042.8,387.5 2043.7,382.1 2044.6,388.6 2045.5,383.0 2046.4,389.6 2047.3,382.7 2048.2,387.7 2049.1,379.6 2050.0,384.4 2050.9,376.7 2051.8,383.5 2052.7,377.6 2053.6,384.1 2054.5,380.0 2055.4,386.7 2056.3,380.8 2057.2,386.1 2058.1,379.2 2059.0,384.2 2059.9,378.5 2060.8,382.4 2061.7,378.0 2062.6,381.9 2063.5,377.8 2064.4,383.1 2065.3,378.6 2066.2,385.2 2067.1,381.3 2068.0,387.3 2068.9,383.6 2069.8,388.1 2070.7,383.4 2071.6,388.0 2072.5,381.9 2073.4,386.9 2074.3,381.5 2075.2,386.7 2076.1,382.2 2077.0,388.1 2077.9,382.6 2078.8,388.9 2079.7,381.6 2080.6,386.9 2081.5,380.8 2082.4,386.7 2083.3,382.5 2084.2,387.6 2085.1,383.0 2086.0,387.7 2086.9,383.6 2087.8,388.1 2088.7,383.1 2089.6,388.4 2090.5,383.3 2091.4,389.9 2092.3,385.1 2093.2,390.9 2094.1,385.1 2095.0,390.7 2095.9,383.6 2096.8,389.1 2097.7,383.0 2098.6,389.2 2099.5,383.0 2100.4,389.0 2101.3,384.2 2102.2,390.0 2103.1,384.1 2104.0,390.2 2104.9,383.4 2105.8,390.2 2106.7,383.2 2107.6,390.1 2108.5,383.2 2109.4,390.0 2110.3,385.7 2111.2,393.2 2112.1,388.2 2113.0,393.9 2113.9,388.3 2114.8,393.4 2115.7,388.4 2116.6,393.0 2117.5,388.0 2118.4,393.0 2119.3,387.3 2120.2,393.2 2121.1,386.0 2122.0,392.4 2122.9,385.3 2123.8,391.1 2124.7,384.6 2125.6,391.2 2126.5,386.8 2127.4,391.2 2128.3,387.4 2129.2,389.8 2130.1,384.1 2131.0,388.9 2131.9,383.5 2132.8,389.2 2133.7,384.8 2134.6,390.2 2135.5,385.2 2136.4,390.5 2137.3,385.2"/>
<polyline stroke="#ff0000" points="335.5,67.0 336.4,96.0 337.3,72.1 338.2,94.4 339.1,71.4 340.0,96.0 340.9,71.2 341.8,91.7 342.7,67.4 343.6,90.8 344.5,64.8 345.4,94.9 346.3,67.3 347.2,97.1 348.1,65.8 349.0,95.2 349.9,63.9 350.8,98.0 351.7,63.6 352.6,101.0 353.5,72.2 354.4,99.4 355.3,77.5 356.2,97.0 357.1,74.7 358.0,96.7 358.9,71.8 359.8,94.4 360.7,69.1 361.6,94.9 362.5,71.6 363.4,94.4 364.3,76.4 365.2,97.9 366.1,74.7 367.0,101.2 367.9,74.1 368.8,99.3 369.7,73.7 370.6,100.5 371.5,80.5 372.4,103.1 373.3,84.4 374.2,107.9 375.1,81.9 376.0,106.4 376.9,80.5 377.8,105.6 378.7,83.2 379.6,106.1 380.5,87.6 381.4,110.7 382.3,88.2 383.2,116.7 384.1,89.5 385.0,114.3 385.9,85.7 386.8,112.9 387.7,85.8 388.6,112.5 389.5,90.0 390.4,113.1 391.3,94.7 392.2,113.8 393.1,90.7 394.0,112.6 394.9,85.1 395.8,111.0 396.7,85.9 397.6,110.3 398.5,91.0 399.4,112.7 400.3,94.9 401.2,119.9 402.1,95.8 403.0,114.3 403.9,92.2 404.8,113.9 405.7,93.8 406.6,115.8 407.5,94.0 408.4,118.6 409.3,95.8 410.2,126.7 411.1,94.8 412.0,121.3 412.9,84.0 413.8,122.0 414.7,97.2 415.6,120.7 416.5,96.5 417.4,119.9 418.3,98.4 419.2,123.9 420.1,100.4 421.0,126.4 421.9,105.1 422.8,126.8 423.7,101.1 424.6,126.1 425.5,99.0 426.4,124.0 427.3,100.5 428.2,126.6 429.1,107.3 430.0,130.1 430.9,107.4 431.8,126.6 432.7,103.3 433.6,128.1 434.5,103.1 435.4,125.3 436.3,107.6 437.2,124.9 438.1,104.3 439.0,125.6 439.9,104.1 440.8,126.2 441.7,106.2 442.6,124.2 443.5,101.1 444.4,124.4 445.3,99.7 446.2,126.5 447.1,102.1 448.0,127.8 448.9,103.2 449.8,129.6 450.7,103.6 451.6,133.4 452.5,105.7 453.4,131.8 454.3,106.2 455.2,131.2 456.1,106.0 457.0,127.6 457.9,108.0 458.8,128.3 459.7,107.4 460.6,128.9 461.5,107.7 462.4,130.3 463.3,106.4 464.2,134.9 465.1,111.4 466.0,133.3 466.9,112.6 467.8,132.5 468.7,110.9 469.6,131.1 470.5,112.7 471.4,131.4 472.3,116.4 473.2,132.0 474.1,115.9 475.0,132.4 475.9,113.7 476.8,135.0 477.7,112.0 478.6,136.9 479.5,113.1 480.4,136.4 481.3,114.7 482.2,136.8 483.1,116.2 484.0,141.7 484.9,120.8 485.8,149.8 486.7,121.3 487.6,149.2 488.5,123.6 489.4,147.2 490.3,123.7 491.2,147.2 492.1,119.3 493.0,145.6 493.9,120.3 494.8,144.4 495.7,123.6 496.6,99.6 497.5,123.0 498.4,143.9 499.3,163.8 500.2,140.7 501.1,122.8 502.0,137.0 502.9,122.3 503.8,136.3 504.7,119.4 505.6,138.2 506.5,116.5 507.4,141.5 508.3,114.9 509.2,145.3 510.1,118.5 511.0,145.1 511.9,123.1 512.8,143.2 513.7,125.9 514.6,144.5 515.5,127.0 516.4,145.5 517.3,126.0 518.2,150.9 519.1,124.7 520.0,155.3 520.9,127.6 521.8,155.1 522.7,130.8 523.6,153.2 524.5,132.4 525.4,153.4 526.3,132.0 527.2,152.3 528.1,131.2 529.0,147.3 529.9,125.8 530.8,144.8 531.7,125.4 532.6,148.4 533.5,125.0 534.4,146.6 535.3,126.1 536.2,150.8 537.1,126.7 538.0,153.2 538.9,131.1 539.8,152.1 540.7,133.4 541.6,154.9 542.5,129.2 543.4,154.6 544.3,126.2 545.2,157.1 546.1,127.3 547.0,152.6 547.9,134.3 548.8,152.5 549.7,136.3 550.6,153.8 551.5,134.2 552.4,120.8 553.3,132.6 554.2,154.3 555.1,127.2 556.0,154.8 556.9,128.2 557.8,156.4 558.7,133.1 559.6,155.0 560.5,132.8 561.4,153.8 562.3,133.7 563.2,154.8 564.1,133.9 565.0,155.4 565.9,134.0 566.8,158.3 567.7,115.1 568.6,156.4 569.5,135.0 570.4,158.5 571.3,135.1 572.2,161.5 573.1,134.3 574.0,160.6 574.9,136.1 575.8,160.0 576.7,137.5 577.6,160.8 578.5,142.5 579.4,163.2 580.3,144.8 581.2,162.7 582.1,143.6 583.0,160.9 583.9,142.0 584.8,169.3 585.7,142.9 586.6,171.5 587.5,143.3 588.4,170.1 589.3,142.9 590.2,168.2 591.1,139.2 592.0,173.7 592.9,141.2 593.8,168.5 594.7,146.3 595.6,167.3 596.5,149.1 597.4,167.6 598.3,148.1 599.2,169.4 600.1,144.8 601.0,171.1 601.9,144.4 602.8,165.9 603.7,145.7 604.6,165.2 605.5,141.5 606.4,168.5 607.3,143.1 608.2,170.0 609.1,147.7 610.0,174.3 610.9,151.5 611.8,170.8 612.7,153.7 613.6,175.3 614.5,149.0 615.4,170.7 616.3,146.3 617.2,168.3 618.1,147.3 619.0,163.7 619.9,146.2 620.8,166.8 621.7,145.3 622.6,175.8 623.5,147.7 624.4,174.5 625.3,153.8 626.2,175.1 627.1,157.8 628.0,174.4 628.9,156.9 629.8,177.3 630.7,153.1 631.6,177.8 632.5,149.5 633.4,178.9 634.3,151.9 635.2,180.1 636.1,155.4 637.0,175.5 637.9,155.1 638.8,173.5 639.7,255.6 640.6,173.3 641.5,157.3 642.4,174.9 643.3,155.7 644.2,176.5 645.1,150.0 646.0,175.8 646.9,153.7 647.8,173.0 648.7,152.3 649.6,174.5 650.5,155.2 651.4,180.7 652.3,157.6 653.2,184.5 654.1,158.0 655.0,186.9 655.9,160.1 656.8,183.2 657.7,161.4 658.6,181.7 659.5,160.1 660.4,182.6 661.3,162.3 662.2,184.8 663.1,162.8 664.0,182.4 664.9,161.1 665.8,180.9 666.7,155.9 667.6,180.4 668.5,157.9 669.4,185.7 670.3,161.0 671.2,182.2 672.1,159.9 673.0,181.5 673.9,163.9 674.8,185.9 675.7,164.1 676.6,185.1 677.5,158.9 678.4,186.4 679.3,164.2 680.2,190.3 681.1,161.9 682.0,189.6 682.9,162.9 683.8,188.2 684.7,161.8 685.6,186.5 686.5,165.1 687.4,186.3 688.3,165.2 689.2,142.0 690.1,164.9 691.0,190.8 691.9,167.2 692.8,189.1 693.7,164.2 694.6,187.3 695.5,166.7 696.4,194.0 697.3,169.2 698.2,195.2 699.1,172.9 700.0,195.5 700.9,171.5 701.8,191.7 702.7,175.7 703.6,192.9 704.5,175.0 705.4,190.8 706.3,170.8 707.2,191.1 708.1,171.8 709.0,192.4 709.9,170.0 710.8,190.3 711.7,168.6 712.6,191.2 713.5,173.9 714.4,194.3 715.3,178.6 716.2,194.7 717.1,176.1 718.0,160.3 718.9,172.4 719.8,188.1 720.7,171.5 721.6,187.3 722.5,206.2 723.4,190.2 724.3,174.0 725.2,192.3 726.1,177.4 727.0,193.7 727.9,175.3 728.8,192.4 729.7,170.1 730.6,196.7 731.5,174.0 732.4,196.2 733.3,171.6 734.2,197.8 735.1,174.6 736.0,196.6 736.9,176.5 737.8,190.6 738.7,170.2 739.6,190.6 740.5,168.0 741.4,192.1 742.3,174.5 743.2,196.1 744.1,177.9 745.0,199.7 745.9,177.7 746.8,199.8 747.7,178.8 748.6,198.3 749.5,177.2 750.4,200.9 751.3,176.6 752.2,208.0 753.1,176.8 754.0,205.6 754.9,181.6 755.8,199.4 756.7,176.4 757.6,193.7 758.5,172.3 759.4,194.7 760.3,175.9 761.2,195.0 762.1,175.9 763.0,164.5 763.9,179.4 764.8,198.0 765.7,176.6 766.6,197.8 767.5,174.4 768.4,199.5 769.3,173.9 770.2,201.9 771.1,175.1 772.0,198.2 772.9,175.8 773.8,202.2 774.7,175.1 775.6,206.5 776.5,177.5 777.4,206.1 778.3,179.5 779.2,203.0 780.1,176.3 781.0,197.8 781.9,175.7 782.8,195.8 783.7,176.4 784.6,197.0 785.5,175.3 786.4,198.1 787.3,179.5 788.2,194.9 789.1,178.4 790.0,195.7 790.9,181.5 791.8,199.7 792.7,180.3 793.6,203.6 794.5,180.8 795.4,205.9 796.3,184.4 797.2,207.6 798.1,180.8 799.0,202.7 799.9,179.9 800.8,205.9 801.7,182.2 802.6,208.4 803.5,184.6 804.4,211.4 805.3,186.7 806.2,206.0 807.1,185.5 808.0,204.6 808.9,185.4 809.8,205.8 810.7,188.5 811.6,206.4 812.5,191.1 813.4,207.5 814.3,186.7 815.2,207.4 816.1,182.3 817.0,210.9 817.9,181.0 818.8,214.5 819.7,182.7 820.6,212.0 821.5,183.3 822.4,210.0 823.3,181.2 824.2,212.1 825.1,187.6 826.0,214.2 826.9,191.6 827.8,217.0 828.7,191.0 829.6,215.5 830.5,186.1 831.4,208.2 832.3,184.0 833.2,212.2 834.1,186.1 835.0,214.2 835.9,185.4 836.8,215.6 837.7,182.8 838.6,215.9 839.5,189.6 840.4,212.8 841.3,187.0 842.2,215.0 843.1,190.2 844.0,211.9 844.9,191.2 845.8,211.2 846.7,192.4 847.6,210.5 848.5,191.5 849.4,208.7 850.3,187.9 851.2,212.5 852.1,186.0 853.0,209.6 853.9,183.0 854.8,209.0 855.7,180.7 856.6,209.4 857.5,183.7 858.4,211.1 859.3,187.8 860.2,213.4 861.1,190.2 862.0,215.4 862.9,185.1 863.8,213.0 864.7,176.4 865.6,209.9 866.5,185.4 867.4,210.2 868.3,185.0 869.2,211.1 870.1,185.1 871.0,219.8 871.9,185.2 872.8,209.5 873.7,185.8 874.6,206.7 875.5,185.4 876.4,205.2 877.3,184.8 878.2,206.1 879.1,189.6 880.0,211.5 880.9,189.9 881.8,216.8 882.7,190.4 883.6,222.6 884.5,186.7 885.4,215.8 886.3,189.2 887.2,211.9 888.1,186.0 889.0,212.1 889.9,184.2 890.8,213.7 891.7,187.8 892.6,216.9 893.5,185.4 894.4,217.7 895.3,186.8 896.2,213.4 897.1,186.7 898.0,210.6 898.9,186.3 899.8,209.3 900.7,188.8 901.6,180.7 902.5,192.4 903.4,215.7 904.3,191.5 905.2,213.5 906.1,191.5 907.0,213.9 907.9,187.7 908.8,214.5 909.7,189.4 910.6,216.3 911.5,189.8 912.4,216.5 913.3,193.0 914.2,215.9 915.1,194.9 916.0,214.5 916.9,193.9 917.8,214.2 918.7,197.4 919.6,214.9 920.5,198.9 921.4,218.0 922.3,197.1 923.2,217.3 924.1,196.0 925.0,217.3 925.9,190.8 926.8,218.4 927.7,197.2 928.6,222.4 929.5,197.7 930.4,220.3 931.3,196.3 932.2,217.6 933.1,195.3 934.0,215.7 934.9,197.4 935.8,214.5 936.7,193.5 937.6,218.9 938.5,190.6 939.4,226.5 940.3,194.0 941.2,225.7 942.1,199.6 943.0,223.4 943.9,199.1 944.8,227.2 945.7,204.0 946.6,225.5 947.5,206.6 948.4,226.2 949.3,207.5 950.2,225.2 951.1,205.2 952.0,230.2 952.9,201.2 953.8,226.6 954.7,200.3 955.6,224.6 956.5,196.0 957.4,227.1 958.3,202.6 959.2,226.0 960.1,204.3 961.0,226.8 961.9,201.3 962.8,226.3 963.7,283.0 964.6,227.3 965.5,205.6 966.4,226.7 967.3,205.2 968.2,224.6 969.1,203.6 970.0,224.3 970.9,200.5 971.8,224.0 972.7,204.2 973.6,226.1 974.5,205.6 975.4,228.6 976.3,210.3 977.2,230.8 978.1,213.6 979.0,230.5 979.9,212.7 980.8,231.9 981.7,207.8 982.6,234.9 983.5,210.7 984.4,234.2 985.3,209.6 986.2,231.7 987.1,209.3 988.0,229.2 988.9,207.2 989.8,230.8 990.7,203.8 991.6,228.8 992.5,209.5 993.4,229.3 994.3,213.8 995.2,231.4 996.1,210.0 997.0,237.5 997.9,210.1 998.8,236.6 999.7,211.1 1000.6,234.8 1001.5,211.7 1002.4,233.3 1003.3,211.7 1004.2,236.0 1005.1,213.4 1006.0,238.0 1006.9,207.2 1007.8,233.1 1008.7,208.8 1009.6,232.4 1010.5,207.6 1011.4,236.5 1012.3,203.9 1013.2,229.3 1014.1,207.6 1015.0,250.5 1015.9,208.7 1016.8,229.7 1017.7,212.3 1018.6,230.3 1019.5,213.7 1020.4,234.6 1021.3,215.8 1022.2,234.6 1023.1,213.4 1024.0,234.4 1024.9,212.2 1025.8,239.6 1026.7,210.5 1027.6,237.3 1028.5,212.3 1029.4,236.6 1030.3,213.3 1031.2,253.3 1032.1,214.8 1033.0,233.7 1033.9,215.7 1034.8,235.4 1035.7,218.3 1036.6,243.7 1037.5,216.1 1038.4,239.8 1039.3,214.8 1040.2,239.9 1041.1,211.3 1042.0,239.6 1042.9,210.3 1043.8,239.0 1044.7,214.9 1045.6,239.4 1046.5,213.8 1047.4,235.2 1048.3,219.7 1049.2,233.7 1050.1,220.5 1051.0,241.0 1051.9,217.6 1052.8,242.3 1053.7,219.7 1054.6,240.2 1055.5,217.2 1056.4,235.7 1057.3,213.5 1058.2,235.0 1059.1,207.1 1060.0,235.3 1060.9,210.7 1061.8,239.2 1062.7,213.0 1063.6,240.1 1064.5,212.1 1065.4,238.7 1066.3,209.2 1067.2,240.8 1068.1,210.7 1069.0,242.8 1069.9,208.9 1070.8,241.0 1071.7,213.0 1072.6,252.6 1073.5,214.0 1074.4,204.7 1075.3,218.1 1076.2,240.0 1077.1,219.9 1078.0,241.3 1078.9,217.4 1079.8,238.3 1080.7,218.0 1081.6,244.3 1082.5,225.4 1083.4,248.8 1084.3,224.7 1085.2,246.6 1086.1,225.5 1087.0,243.4 1087.9,222.5 1088.8,240.9 1089.7,219.9 1090.6,244.2 1091.5,221.0 1092.4,244.3 1093.3,257.6 1094.2,243.0 1095.1,223.8 1096.0,241.9 1096.9,219.7 1097.8,247.5 1098.7,219.6 1099.6,247.6 1100.5,220.7 1101.4,249.6 1102.3,221.7 1103.2,244.2 1104.1,223.1 1105.0,241.9 1105.9,222.5 1106.8,239.4 1107.7,221.0 1108.6,237.7 1109.5,221.1 1110.4,246.1 1111.3,278.2 1112.2,249.2 1113.1,215.6 1114.0,250.5 1114.9,223.1 1115.8,246.0 1116.7,225.0 1117.6,251.0 1118.5,222.5 1119.4,249.2 1120.3,225.4 1121.2,249.6 1122.1,230.3 1123.0,246.6 1123.9,229.6 1124.8,244.8 1125.7,229.0 1126.6,245.4 1127.5,222.9 1128.4,247.7 1129.3,224.3 1130.2,247.8 1131.1,231.7 1132.0,246.9 1132.9,233.1 1133.8,250.7 1134.7,231.6 1135.6,251.8 1136.5,225.8 1137.4,246.3 1138.3,216.7 1139.2,246.4 1140.1,222.3 1141.0,252.2 1141.9,223.8 1142.8,247.8 1143.7,227.1 1144.6,249.2 1145.5,227.5 1146.4,248.9 1147.3,226.0 1148.2,250.9 1149.1,230.6 1150.0,264.0 1150.9,228.4 1151.8,250.9 1152.7,225.9 1153.6,249.9 1154.5,223.7 1155.4,246.9 1156.3,218.6 1157.2,252.3 1158.1,227.2 1159.0,250.4 1159.9,225.2 1160.8,252.6 1161.7,226.8 1162.6,252.2 1163.5,221.8 1164.4,255.2 1165.3,226.7 1166.2,255.9 1167.1,226.8 1168.0,251.7 1168.9,229.7 1169.8,254.6 1170.7,234.3 1171.6,257.0 1172.5,229.8 1173.4,254.3 1174.3,227.9 1175.2,250.9 1176.1,225.5 1177.0,252.8 1177.9,228.5 1178.8,251.9 1179.7,230.4 1180.6,249.3 1181.5,232.3 1182.4,249.7 1183.3,229.6 1184.2,252.0 1185.1,229.9 1186.0,255.7 1186.9,230.4 1187.8,258.8 1188.7,231.2 1189.6,255.5 1190.5,229.4 1191.4,258.0 1192.3,228.1 1193.2,257.5 1194.1,232.9 1195.0,257.4 1195.9,231.4 1196.8,260.0 1197.7,233.2 1198.6,261.7 1199.5,239.3 1200.4,259.3 1201.3,238.9 1202.2,256.1 1203.1,236.2 1204.0,210.3 1204.9,237.3 1205.8,256.5 1206.7,234.3 1207.6,256.3 1208.5,236.9 1209.4,262.0 1210.3,237.9 1211.2,262.3 1212.1,240.3 1213.0,262.0 1213.9,238.6 1214.8,262.9 1215.7,241.6 1216.6,258.7 1217.5,238.6 1218.4,255.6 1219.3,233.2 1220.2,258.4 1221.1,235.8 1222.0,260.9 1222.9,235.6 1223.8,265.0 1224.7,237.8 1225.6,266.0 1226.5,235.9 1227.4,260.3 1228.3,236.1 1229.2,258.2 1230.1,235.8 1231.0,258.6 1231.9,235.2 1232.8,259.0 1233.7,235.1 1234.6,258.6 1235.5,238.6 1236.4,265.7 1237.3,239.4 1238.2,264.8 1239.1,240.0 1240.0,270.3 1240.9,241.9 1241.8,262.4 1242.7,241.4 1243.6,261.2 1244.5,237.0 1245.4,258.2 1246.3,235.6 1247.2,256.8 1248.1,236.4 1249.0,256.9 1249.9,237.6 1250.8,258.5 1251.7,238.0 1252.6,253.9 1253.5,236.2 1254.4,253.8 1255.3,233.6 1256.2,261.3 1257.1,238.5 1258.0,263.6 1258.9,239.8 1259.8,264.9 1260.7,237.9 1261.6,266.4 1262.5,239.2 1263.4,266.9 1264.3,235.6 1265.2,260.9 1266.1,235.8 1267.0,260.0 1267.9,237.8 1268.8,264.6 1269.7,241.1 1270.6,266.4 1271.5,240.3 1272.4,262.6 1273.3,239.3 1274.2,265.8 1275.1,240.1 1276.0,265.2 1276.9,234.0 1277.8,257.3 1278.7,234.7 1279.6,258.1 1280.5,237.7 1281.4,268.9 1282.3,236.0 1283.2,266.0 1284.1,234.0 1285.0,269.3 1285.9,240.2 1286.8,267.8 1287.7,239.7 1288.6,267.6 1289.5,239.6 1290.4,264.0 1291.3,236.5 1292.2,261.6 1293.1,235.2 1294.0,261.8 1294.9,241.8 1295.8,262.8 1296.7,241.5 1297.6,259.9 1298.5,238.8 1299.4,260.2 1300.3,240.2 1301.2,260.5 1302.1,242.9 1303.0,262.5 1303.9,242.6 1304.8,266.7 1305.7,240.7 1306.6,265.6 1307.5,243.5 1308.4,271.9 1309.3,242.5 1310.2,269.0 1311.1,237.7 1312.0,280.2 1312.9,236.1 1313.8,261.6 1314.7,238.9 1315.6,264.3 1316.5,242.6 1317.4,261.0 1318.3,237.7 1319.2,265.1 1320.1,242.6 1321.0,266.8 1321.9,241.9 1322.8,265.3 1323.7,238.2 1324.6,264.1 1325.5,238.4 1326.4,267.0 1327.3,238.0 1328.2,267.5 1329.1,238.8 1330.0,274.7 1330.9,241.1 1331.8,269.1 1332.7,284.4 1333.6,272.3 1334.5,253.1 1335.4,275.9 1336.3,249.6 1337.2,277.8 1338.1,245.1 1339.0,273.7 1339.9,243.0 1340.8,271.8 1341.7,239.7 1342.6,282.0 1343.5,245.0 1344.4,269.4 1345.3,250.0 1346.2,273.8 1347.1,246.3 1348.0,277.4 1348.9,245.6 1349.8,275.2 1350.7,250.7 1351.6,270.8 1352.5,250.5 1353.4,276.3 1354.3,251.0 1355.2,278.5 1356.1,252.0 1357.0,288.1 1357.9,253.8 1358.8,276.2 1359.7,251.0 1360.6,277.3 1361.5,248.3 1362.4,274.6 1363.3,248.9 1364.2,277.1 1365.1,250.3 1366.0,278.4 1366.9,254.1 1367.8,279.3 1368.7,258.2 1369.6,281.2 1370.5,258.7 1371.4,280.4 1372.3,256.0 1373.2,278.4 1374.1,255.5 1375.0,278.1 1375.9,251.6 1376.8,275.1 1377.7,247.8 1378.6,275.7 1379.5,255.8 1380.4,276.2 1381.3,257.8 1382.2,276.0 1383.1,259.0 1384.0,282.6 1384.9,257.3 1385.8,285.3 1386.7,255.1 1387.6,278.4 1388.5,252.4 1389.4,274.0 1390.3,254.3 1391.2,278.4 1392.1,254.7 1393.0,281.0 1393.9,250.1 1394.8,277.1 1395.7,251.3 1396.6,277.4 1397.5,286.6 1398.4,278.7 1399.3,254.2 1400.2,275.4 1401.1,255.2 1402.0,275.1 1402.9,258.7 1403.8,279.2 1404.7,259.1 1405.6,279.7 1406.5,256.3 1407.4,281.0 1408.3,258.5 1409.2,278.5 1410.1,261.0 1411.0,281.5 1411.9,259.6 1412.8,285.0 1413.7,255.6 1414.6,282.4 1415.5,252.1 1416.4,283.6 1417.3,254.2 1418.2,280.2 1419.1,255.6 1420.0,275.7 1420.9,254.0 1421.8,273.8 1422.7,247.4 1423.6,271.1 1424.5,247.5 1425.4,274.4 1426.3,251.7 1427.2,280.1 1428.1,256.1 1429.0,279.6 1429.9,253.5 1430.8,276.9 1431.7,245.9 1432.6,278.1 1433.5,251.5 1434.4,278.5 1435.3,257.4 1436.2,282.4 1437.1,255.5 1438.0,280.0 1438.9,251.4 1439.8,279.4 1440.7,254.7 1441.6,280.9 1442.5,257.3 1443.4,284.0 1444.3,260.9 1445.2,280.7 1446.1,258.6 1447.0,284.5 1447.9,253.8 1448.8,284.3 1449.7,250.7 1450.6,282.7 1451.5,252.8 1452.4,281.1 1453.3,257.1 1454.2,274.4 1455.1,259.2 1456.0,276.7 1456.9,260.4 1457.8,278.6 1458.7,260.8 1459.6,277.5 1460.5,256.2 1461.4,277.9 1462.3,254.9 1463.2,276.3 1464.1,251.3 1465.0,276.4 1465.9,254.1 1466.8,280.0 1467.7,251.2 1468.6,279.6 1469.5,247.2 1470.4,276.9 1471.3,248.8 1472.2,279.9 1473.1,250.5 1474.0,284.1 1474.9,258.6 1475.8,279.6 1476.7,259.7 1477.6,278.6 1478.5,300.0 1479.4,284.2 1480.3,260.2 1481.2,289.7 1482.1,266.9 1483.0,289.8 1483.9,269.6 1484.8,285.6 1485.7,266.7 1486.6,285.9 1487.5,265.9 1488.4,287.5 1489.3,262.6 1490.2,307.0 1491.1,262.5 1492.0,295.8 1492.9,257.1 1493.8,292.1 1494.7,262.2 1495.6,293.7 1496.5,261.4 1497.4,291.3 1498.3,259.2 1499.2,305.0 1500.1,264.8 1501.0,285.0 1501.9,262.2 1502.8,285.3 1503.7,260.8 1504.6,288.4 1505.5,264.7 1506.4,295.3 1507.3,264.8 1508.2,295.5 1509.1,264.3 1510.0,289.9 1510.9,259.0 1511.8,293.4 1512.7,264.1 1513.6,290.9 1514.5,269.3 1515.4,289.8 1516.3,267.9 1517.2,290.4 1518.1,267.4 1519.0,288.8 1519.9,271.0 1520.8,289.8 1521.7,268.2 1522.6,290.2 1523.5,267.0 1524.4,290.5 1525.3,266.1 1526.2,290.7 1527.1,264.6 1528.0,294.7 1528.9,269.5 1529.8,296.6 1530.7,270.2 1531.6,293.1 1532.5,262.5 1533.4,291.1 1534.3,256.7 1535.2,288.9 1536.1,258.0 1537.0,287.6 1537.9,256.9 1538.8,285.2 1539.7,263.1 1540.6,285.4 1541.5,263.9 1542.4,286.4 1543.3,262.6 1544.2,291.7 1545.1,263.4 1546.0,307.0 1546.9,265.1 1547.8,289.7 1548.7,264.2 1549.6,288.7 1550.5,266.9 1551.4,285.9 1552.3,267.0 1553.2,284.5 1554.1,258.1 1555.0,287.5 1555.9,259.3 1556.8,285.3 1557.7,266.9 1558.6,284.8 1559.5,272.9 1560.4,288.4 1561.3,274.8 1562.2,289.1 1563.1,274.0 1564.0,287.2 1564.9,266.9 1565.8,286.7 1566.7,262.2 1567.6,288.2 1568.5,263.5 1569.4,286.3 1570.3,267.3 1571.2,287.4 1572.1,266.4 1573.0,290.3 1573.9,265.6 1574.8,290.5 1575.7,261.7 1576.6,291.5 1577.5,263.4 1578.4,287.6 1579.3,269.3 1580.2,289.4 1581.1,271.0 1582.0,295.2 1582.9,267.4 1583.8,295.4 1584.7,268.3 1585.6,293.3 1586.5,270.6 1587.4,288.7 1588.3,268.3 1589.2,287.7 1590.1,266.4 1591.0,287.7 1591.9,269.4 1592.8,293.2 1593.7,268.2 1594.6,292.5 1595.5,269.1 1596.4,288.9 1597.3,269.1 1598.2,289.2 1599.1,268.0 1600.0,294.3 1600.9,265.8 1601.8,294.5 1602.7,273.6 1603.6,294.8 1604.5,275.2 1605.4,289.5 1606.3,273.9 1607.2,289.9 1608.1,274.1 1609.0,292.8 1609.9,273.1 1610.8,288.3 1611.7,271.4 1612.6,289.0 1613.5,265.0 1614.4,290.2 1615.3,266.5 1616.2,292.3 1617.1,267.6 1618.0,289.8 1618.9,268.2 1619.8,291.1 1620.7,272.3 1621.6,291.7 1622.5,273.3 1623.4,293.0 1624.3,272.8 1625.2,292.9 1626.1,270.7 1627.0,293.6 1627.9,268.5 1628.8,295.0 1629.7,265.6 1630.6,297.8 1631.5,271.7 1632.4,294.8 1633.3,270.7 1634.2,292.2 1635.1,272.5 1636.0,290.4 1636.9,275.2 1637.8,292.4 1638.7,275.3 1639.6,294.4 1640.5,278.8 1641.4,295.0 1642.3,278.0 1643.2,297.6 1644.1,275.3 1645.0,296.3 1645.9,274.8 1646.8,295.2 1647.7,272.2 1648.6,291.8 1649.5,273.8 1650.4,292.3 1651.3,276.7 1652.2,290.6 1653.1,277.3 1654.0,288.5 1654.9,273.5 1655.8,288.6 1656.7,269.4 1657.6,287.9 1658.5,269.2 1659.4,286.1 1660.3,268.8 1661.2,286.0 1662.1,265.6 1663.0,289.0 1663.9,270.1 1664.8,292.1 1665.7,275.8 1666.6,292.6 1667.5,272.0 1668.4,294.2 1669.3,270.2 1670.2,290.0 1671.1,268.6 1672.0,285.1 1672.9,268.0 1673.8,289.0 1674.7,263.3 1675.6,284.7 1676.5,263.9 1677.4,280.1 1678.3,261.5 1679.2,279.5 1680.1,258.4 1681.0,240.0 1681.9,253.6 1682.8,240.0 1683.7,255.9 1684.6,278.7 1685.5,257.4 1686.4,278.0 1687.3,261.1 1688.2,279.5 1689.1,353.6 1690.0,283.0 1690.9,261.3 1691.8,284.3 1692.7,261.8 1693.6,262.0 1694.5,263.1 1695.4,282.5 1696.3,264.1 1697.2,278.5 1698.1,262.0 1699.0,282.6 1699.9,313.0 1700.8,285.6 1701.7,313.0 1702.6,286.2 1703.5,266.0 1704.4,289.6 1705.3,270.9 1706.2,291.9 1707.1,268.9 1708.0,287.5 1708.9,266.7 1709.8,234.2 1710.7,267.1 1711.6,289.8 1712.5,271.3 1713.4,293.2 1714.3,270.4 1715.2,349.0 1716.1,267.9 1717.0,289.9 1717.9,265.0 1718.8,293.9 1719.7,265.8 1720.6,286.5 1721.5,265.0 1722.4,290.7 1723.3,277.4 1724.2,297.8 1725.1,284.5 1726.0,310.3 1726.9,285.5 1727.8,315.6 1728.7,291.3 1729.6,314.9 1730.5,292.2 1731.4,311.4 1732.3,295.1 1733.2,313.3 1734.1,298.7 1735.0,313.5 1735.9,300.1 1736.8,313.1 1737.7,302.0 1738.6,316.5 1739.5,305.0 1740.4,320.7 1741.3,306.6 1742.2,322.0 1743.1,305.6 1744.0,320.0 1744.9,304.8 1745.8,326.0 1746.7,303.7 1747.6,315.5 1748.5,305.1 1749.4,316.8 1750.3,302.2 1751.2,314.6 1752.1,299.6 1753.0,313.7 1753.9,300.8 1754.8,315.3 1755.7,303.3 1756.6,314.6 1757.5,302.4 1758.4,314.4 1759.3,301.1 1760.2,314.7 1761.1,296.8 1762.0,316.8 1762.9,300.1 1763.8,315.1 1764.7,300.4 1765.6,313.0 1766.5,300.1 1767.4,312.5 1768.3,302.7 1769.2,316.6 1770.1,305.5 1771.0,316.8 1771.9,303.3 1772.8,317.1 1773.7,300.5 1774.6,315.0 1775.5,301.1 1776.4,314.8 1777.3,304.3 1778.2,316.5 1779.1,305.5 1780.0,315.7 1780.9,304.8 1781.8,314.6 1782.7,301.4 1783.6,317.0 1784.5,301.3 1785.4,316.8 1786.3,304.2 1787.2,319.2 1788.1,304.5 1789.0,316.8 1789.9,288.0 1790.8,312.2 1791.7,297.3 1792.6,311.9 1793.5,297.4 1794.4,312.7 1795.3,302.2 1796.2,316.6 1797.1,304.4 1798.0,316.2 1798.9,303.6 1799.8,315.5 1800.7,306.1 1801.6,317.2 1802.5,306.5 1803.4,319.1 1804.3,303.9 1805.2,324.0 1806.1,301.0 1807.0,314.9 1807.9,301.3 1808.8,312.3 1809.7,302.9 1810.6,312.1 1811.5,302.4 1812.4,313.1 1813.3,300.5 1814.2,313.9 1815.1,303.1 1816.0,315.5 1816.9,303.7 1817.8,314.9 1818.7,304.1 1819.6,315.8 1820.5,304.5 1821.4,317.5 1822.3,306.2 1823.2,317.2 1824.1,307.3 1825.0,318.9 1825.9,306.7 1826.8,315.6 1827.7,302.7 1828.6,314.1 1829.5,301.2 1830.4,316.7 1831.3,302.2 1832.2,319.4 1833.1,305.2 1834.0,321.8 1834.9,305.3 1835.8,320.0 1836.7,303.6 1837.6,317.9 1838.5,304.1 1839.4,316.9 1840.3,302.4 1841.2,315.7 1842.1,300.9 1843.0,314.6 1843.9,299.8 1844.8,314.8 1845.7,302.6 1846.6,315.2 1847.5,301.4 1848.4,314.5 1849.3,302.6 1850.2,317.1 1851.1,304.1 1852.0,318.5 1852.9,304.5 1853.8,319.4 1854.7,306.6 1855.6,321.4 1856.5,307.9 1857.4,323.9 1858.3,306.2 1859.2,323.7 1860.1,305.1 1861.0,324.0 1861.9,303.6 1862.8,317.9 1863.7,301.5 1864.6,314.4 1865.5,300.2 1866.4,315.6 1867.3,298.8 1868.2,322.2 1869.1,301.5 1870.0,321.7 1870.9,305.9 1871.8,322.2 1872.7,308.5 1873.6,328.6 1874.5,307.9 1875.4,323.5 1876.3,306.9 1877.2,321.2 1878.1,305.0 1879.0,321.9 1879.9,306.0 1880.8,319.9 1881.7,355.0 1882.6,319.8 1883.5,301.1 1884.4,319.7 1885.3,307.1 1886.2,319.8 1887.1,308.0 1888.0,325.1 1888.9,307.1 1889.8,328.4 1890.7,307.1 1891.6,325.2 1892.5,306.9 1893.4,323.9 1894.3,307.1 1895.2,321.8 1896.1,305.6 1897.0,320.8 1897.9,303.6 1898.8,320.1 1899.7,305.8 1900.6,323.9 1901.5,310.5 1902.4,323.9 1903.3,311.3 1904.2,321.4 1905.1,311.1 1906.0,320.6 1906.9,310.1 1907.8,318.7 1908.7,308.2 1909.6,333.0 1910.5,307.0 1911.4,319.5 1912.3,309.6 1913.2,322.3 1914.1,314.2 1915.0,326.2 1915.9,315.3 1916.8,328.0 1917.7,315.4 1918.6,328.8 1919.5,314.6 1920.4,330.1 1921.3,312.0 1922.2,341.0 1923.1,311.6 1924.0,326.4 1924.9,311.8 1925.8,293.6 1926.7,313.7 1927.6,325.3 1928.5,310.6 1929.4,322.3 1930.3,307.8 1931.2,320.9 1932.1,305.2 1933.0,320.0 1933.9,305.9 1934.8,321.1 1935.7,308.3 1936.6,322.9 1937.5,310.0 1938.4,322.2 1939.3,307.6 1940.2,319.4 1941.1,305.1 1942.0,321.1 1942.9,308.1 1943.8,324.4 1944.7,312.2 1945.6,325.0 1946.5,314.2 1947.4,322.8 1948.3,311.6 1949.2,320.0 1950.1,308.4 1951.0,321.4 1951.9,308.6 1952.8,323.3 1953.7,310.4 1954.6,324.0 1955.5,310.4 1956.4,323.9 1957.3,312.4 1958.2,324.5 1959.1,313.6 1960.0,325.0 1960.9,312.0 1961.8,326.5 1962.7,314.7 1963.6,344.0 1964.5,313.6 1965.4,324.3 1966.3,310.0 1967.2,322.2 1968.1,306.1 1969.0,322.2 1969.9,306.0 1970.8,327.9 1971.7,310.5 1972.6,329.5 1973.5,315.4 1974.4,325.7 1975.3,316.4 1976.2,325.0 1977.1,312.9 1978.0,326.9 1978.9,315.4 1979.8,325.2 1980.7,314.9 1981.6,326.2 1982.5,315.7 1983.4,327.7 1984.3,314.6 1985.2,324.6 1986.1,311.3 1987.0,324.6 1987.9,309.9 1988.8,324.6 1989.7,333.0 1990.6,325.5 1991.5,315.5 1992.4,330.1 1993.3,319.8 1994.2,333.0 1995.1,319.6 1996.0,332.3 1996.9,318.9 1997.8,329.4 1998.7,318.2 1999.6,328.3 2000.5,317.5 2001.4,329.6 2002.3,316.6 2003.2,330.9 2004.1,315.7 2005.0,330.1 2005.9,317.0 2006.8,329.4 2007.7,315.3 2008.6,329.7 2009.5,312.8 2010.4,331.7 2011.3,317.3 2012.2,333.8 2013.1,318.2 2014.0,334.7 2014.9,317.4 2015.8,333.0 2016.7,315.2 2017.6,330.5 2018.5,314.6 2019.4,327.2 2020.3,313.8 2021.2,323.8 2022.1,314.0 2023.0,323.6 2023.9,312.5 2024.8,325.2 2025.7,313.7 2026.6,326.3 2027.5,319.6 2028.4,330.9 2029.3,324.4 2030.2,334.0 2031.1,323.4 2032.0,333.8 2032.9,317.8 2033.8,333.6 2034.7,316.7 2035.6,331.3 2036.5,315.8 2037.4,332.0 2038.3,317.2 2039.2,332.6 2040.1,321.2 2041.0,332.6 2041.9,322.1 2042.8,333.0 2043.7,320.1 2044.6,334.5 2045.5,316.6 2046.4,332.7 2047.3,314.3 2048.2,332.5 2049.1,313.6 2050.0,328.9 2050.9,313.4 2051.8,330.1 2052.7,315.2 2053.6,331.4 2054.5,318.8 2055.4,331.8 2056.3,322.5 2057.2,332.5 2058.1,323.2 2059.0,333.3 2059.9,321.8 2060.8,333.3 2061.7,322.1 2062.6,333.1 2063.5,320.9 2064.4,336.5 2065.3,321.8 2066.2,337.6 2067.1,322.7 2068.0,335.6 2068.9,323.1 2069.8,333.9 2070.7,322.9 2071.6,335.1 2072.5,323.5 2073.4,336.0 2074.3,319.7 2075.2,335.3 2076.1,321.7 2077.0,335.6 2077.9,322.5 2078.8,337.9 2079.7,326.0 2080.6,337.4 2081.5,326.3 2082.4,337.8 2083.3,324.9 2084.2,335.3 2085.1,321.7 2086.0,335.1 2086.9,321.8 2087.8,337.0 2088.7,325.5 2089.6,339.1 2090.5,328.0 2091.4,340.1 2092.3,327.3 2093.2,338.8 2094.1,324.1 2095.0,334.7 2095.9,323.1 2096.8,334.1 2097.7,321.0 2098.6,332.7 2099.5,319.6 2100.4,336.8 2101.3,323.3 2102.2,339.5 2103.1,324.9 2104.0,339.7 2104.9,328.5 2105.8,340.5 2106.7,328.1 2107.6,338.0 2108.5,325.3 2109.4,338.4 2110.3,323.1 2111.2,338.1 2112.1,324.6 2113.0,334.2 2113.9,322.6 2114.8,334.2 2115.7,322.6 2116.6,338.6 2117.5,324.5 2118.4,343.6 2119.3,328.3 2120.2,338.0 2121.1,326.9 2122.0,340.8 2122.9,325.3 2123.8,337.1 2124.7,325.2 2125.6,336.9 2126.5,325.5 2127.4,338.7 2128.3,327.3 2129.2,342.0 2130.1,325.7 2131.0,343.0 2131.9,326.2 2132.8,338.4 2133.7,326.9 2134.6,336.0 2135.5,324.3 2136.4,337.2 2137.3,327.6"/>
</g>
<text class="tk" text-anchor="end" transform="translate(288.3 1590.9) scale(0.9940 1)">0</text>
<text class="tk" text-anchor="end" transform="translate(288.3 1290.5) scale(0.9940 1)">20</text>
<text class="tk" text-anchor="end" transform="translate(288.3 990.1) scale(0.9940 1)">40</text>
<text class="tk" text-anchor="end" transform="translate(288.3 689.6) scale(0.9940 1)">60</text>
<text class="tk" text-anchor="end" transform="translate(288.3 389.2) scale(0.9940 1)">80</text>
<text class="tk" text-anchor="end" transform="translate(288.3 88.8) scale(0.9940 1)">100</text>
<text class="tk" text-anchor="middle" transform="translate(336.0 1679.2) scale(0.9940 1)">0</text>
<text class="tk" text-anchor="middle" transform="translate(566.1 1679.2) scale(0.9940 1)">30</text>
<text class="tk" text-anchor="middle" transform="translate(796.3 1679.2) scale(0.9940 1)">60</text>
<text class="tk" text-anchor="middle" transform="translate(1026.4 1679.2) scale(0.9940 1)">90</text>
<text class="tk" text-anchor="middle" transform="translate(1256.5 1679.2) scale(0.9940 1)">120</text>
<text class="tk" text-anchor="middle" transform="translate(1486.7 1679.2) scale(0.9940 1)">150</text>
<text class="tk" text-anchor="middle" transform="translate(1716.8 1679.2) scale(0.9940 1)">180</text>
<text class="tk" text-anchor="middle" transform="translate(1947.0 1679.2) scale(0.9940 1)">210</text>
<text class="tk" text-anchor="middle" transform="translate(2177.1 1679.2) scale(0.9940 1)">240</text>
<text class="ttl" text-anchor="middle" transform="translate(1258.0 1815.1) scale(0.9920 1)">Time / min</text>
<text class="ttl2" text-anchor="start" transform="translate(84.4 1150.9) rotate(-90) scale(1.0000 1)">Relative current / %</text>
<g stroke-width="12.2" stroke-linecap="round" fill="none">
<path stroke="#0000ff" d="M372.7 928H516.2"/>
<path stroke="#000000" d="M372.7 1009H516.2"/>
<path stroke="#ff0000" d="M372.7 1090.1H516.2"/>
</g>
<text class="lg" text-anchor="start" transform="translate(531.9 949.9) scale(0.9730 1)">Pt/C</text>
<text class="lg" text-anchor="start" transform="translate(532.9 1030.0) scale(0.9456 1)">MW99<tspan dy="5">_</tspan><tspan dy="-5">T</tspan></text>
<text class="lg" text-anchor="start" transform="translate(532.9 1110.8) scale(0.9456 1)">MW95<tspan dy="5">_</tspan><tspan dy="-5">T</tspan></text>
</svg></body></html>
